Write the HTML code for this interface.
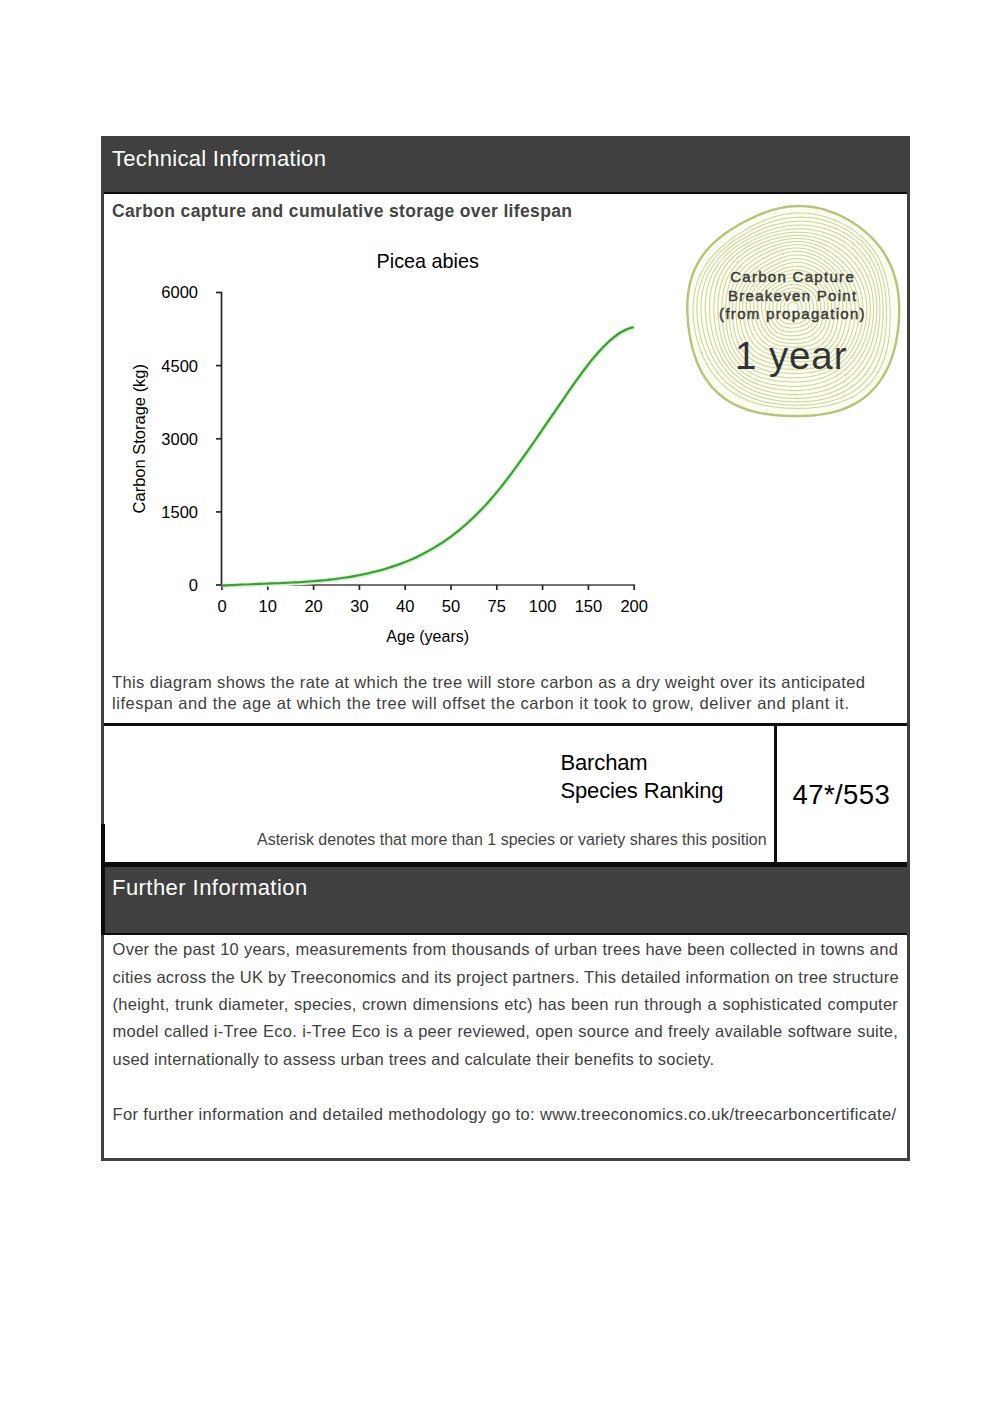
<!DOCTYPE html>
<html><head><meta charset="utf-8">
<style>
html,body{margin:0;padding:0;background:#fff;}
body{width:1004px;height:1421px;position:relative;overflow:hidden;font-family:"Liberation Sans",sans-serif;}
.b{position:absolute;}
.t{position:absolute;white-space:nowrap;line-height:1;}
.hd{background:#404040;}
.blk{background:#0d0d0d;}
.gr{background:#404040;}
</style></head><body>
<!-- Technical header -->
<div class="b hd" style="left:101px;top:136px;width:809px;height:56px;"></div>
<div class="b blk" style="left:104px;top:192px;width:803px;height:2px;"></div>
<!-- borders -->
<div class="b gr" style="left:101px;top:192px;width:3px;height:632px;"></div>
<div class="b blk" style="left:101px;top:824px;width:4px;height:111px;"></div>
<div class="b gr" style="left:101px;top:935px;width:3px;height:226px;"></div>
<div class="b gr" style="left:907px;top:136px;width:3px;height:1025px;"></div>
<div class="b gr" style="left:101px;top:1158px;width:809px;height:3px;"></div>
<!-- ranking row lines -->
<div class="b blk" style="left:104px;top:723px;width:803px;height:3px;"></div>
<div class="b blk" style="left:774px;top:726px;width:3px;height:137px;"></div>
<div class="b blk" style="left:101px;top:862px;width:806px;height:5px;"></div>
<!-- Further header -->
<div class="b hd" style="left:105px;top:867px;width:805px;height:67px;"></div>
<div class="b blk" style="left:101px;top:933px;width:806px;height:2px;"></div>

<!-- header texts -->
<div class="t" style="left:112px;top:148.2px;font-size:22px;letter-spacing:0.3px;color:#fff;">Technical Information</div>
<div class="t" style="left:112px;top:876.6px;font-size:22px;letter-spacing:0.45px;color:#fff;">Further Information</div>
<div class="t" style="left:112px;top:203px;font-size:17.5px;font-weight:700;letter-spacing:0.35px;color:#444;">Carbon capture and cumulative storage over lifespan</div>

<!-- chart -->
<svg class="b" style="left:0;top:0" width="1004" height="700" viewBox="0 0 1004 700">
  <g stroke="#262626" stroke-width="1.7" fill="none">
    <line x1="221.5" y1="292" x2="221.5" y2="586"/>
    <line x1="221" y1="585" x2="635" y2="585" stroke="#444"/>
    <line x1="216" y1="292.5" x2="222" y2="292.5"/>
    <line x1="216" y1="365.6" x2="222" y2="365.6"/>
    <line x1="216" y1="438.8" x2="222" y2="438.8"/>
    <line x1="216" y1="511.9" x2="222" y2="511.9"/>
    <line x1="216" y1="585" x2="222" y2="585"/>
    <line x1="222" y1="585" x2="222" y2="590"/>
    <line x1="267.8" y1="585" x2="267.8" y2="590"/>
    <line x1="313.6" y1="585" x2="313.6" y2="590"/>
    <line x1="359.4" y1="585" x2="359.4" y2="590"/>
    <line x1="405.2" y1="585" x2="405.2" y2="590"/>
    <line x1="451" y1="585" x2="451" y2="590"/>
    <line x1="496.8" y1="585" x2="496.8" y2="590"/>
    <line x1="542.6" y1="585" x2="542.6" y2="590"/>
    <line x1="588.4" y1="585" x2="588.4" y2="590"/>
    <line x1="634.2" y1="585" x2="634.2" y2="590"/>
  </g>
  <path d="M221.8,585.7 C223.0,585.6 226.5,585.4 228.8,585.2 C231.1,585.1 233.4,585.0 235.8,584.9 C238.1,584.7 240.4,584.6 242.7,584.5 C245.1,584.4 247.4,584.3 249.7,584.2 C252.1,584.1 254.4,584.0 256.7,584.0 C259.0,583.9 261.4,583.8 263.7,583.7 C266.0,583.6 268.3,583.5 270.7,583.4 C273.0,583.3 275.3,583.3 277.6,583.2 C280.0,583.1 282.3,583.0 284.6,582.9 C287.0,582.8 289.3,582.7 291.6,582.5 C293.9,582.4 296.3,582.3 298.6,582.2 C300.9,582.0 303.3,581.9 305.6,581.7 C307.9,581.6 310.2,581.4 312.6,581.2 C314.9,581.0 317.2,580.9 319.5,580.6 C321.9,580.4 324.2,580.2 326.5,580.0 C328.8,579.7 331.2,579.5 333.5,579.2 C335.8,578.9 338.2,578.6 340.5,578.3 C342.8,577.9 345.1,577.6 347.5,577.2 C349.8,576.9 352.1,576.5 354.4,576.1 C356.8,575.7 359.1,575.2 361.4,574.7 C363.8,574.3 366.1,573.8 368.4,573.2 C370.7,572.7 373.1,572.2 375.4,571.6 C377.7,571.0 380.0,570.4 382.4,569.7 C384.7,569.1 387.0,568.4 389.4,567.6 C391.7,566.9 394.0,566.1 396.3,565.3 C398.7,564.5 401.0,563.6 403.3,562.7 C405.6,561.8 408.0,560.9 410.3,559.9 C412.6,558.9 415.0,557.8 417.3,556.7 C419.6,555.6 421.9,554.5 424.3,553.2 C426.6,552.0 428.9,550.7 431.2,549.4 C433.6,548.1 435.9,546.7 438.2,545.2 C440.5,543.7 442.9,542.2 445.2,540.6 C447.5,539.0 449.9,537.3 452.2,535.6 C454.5,533.8 456.8,532.0 459.2,530.1 C461.5,528.2 463.8,526.2 466.1,524.2 C468.5,522.1 470.8,520.0 473.1,517.8 C475.5,515.5 477.8,513.2 480.1,510.8 C482.4,508.4 484.8,506.0 487.1,503.4 C489.4,500.8 491.7,498.1 494.1,495.4 C496.4,492.6 498.7,489.8 501.1,486.9 C503.4,483.9 505.7,480.9 508.0,477.9 C510.4,474.8 512.7,471.7 515.0,468.5 C517.3,465.4 519.7,462.1 522.0,458.9 C524.3,455.6 526.7,452.3 529.0,449.0 C531.3,445.7 533.6,442.3 536.0,439.0 C538.3,435.6 540.6,432.3 542.9,428.9 C545.3,425.5 547.6,422.1 549.9,418.7 C552.2,415.3 554.6,411.9 556.9,408.5 C559.2,405.1 561.6,401.7 563.9,398.3 C566.2,395.0 568.5,391.6 570.9,388.2 C573.2,384.9 575.5,381.6 577.9,378.4 C580.2,375.1 582.5,372.0 584.8,368.9 C587.2,365.8 589.5,362.8 591.8,359.9 C594.1,357.1 596.5,354.3 598.8,351.7 C601.1,349.1 603.4,346.7 605.8,344.4 C608.1,342.1 610.4,340.0 612.8,338.1 C615.1,336.2 617.4,334.5 619.7,333.0 C622.1,331.6 624.4,330.3 626.7,329.3 C629.0,328.3 632.5,327.5 633.7,327.1" transform="translate(0.8,1.5)" stroke="#eceeec" stroke-width="3" fill="none"/>
  <path d="M221.8,585.7 C223.0,585.6 226.5,585.4 228.8,585.2 C231.1,585.1 233.4,585.0 235.8,584.9 C238.1,584.7 240.4,584.6 242.7,584.5 C245.1,584.4 247.4,584.3 249.7,584.2 C252.1,584.1 254.4,584.0 256.7,584.0 C259.0,583.9 261.4,583.8 263.7,583.7 C266.0,583.6 268.3,583.5 270.7,583.4 C273.0,583.3 275.3,583.3 277.6,583.2 C280.0,583.1 282.3,583.0 284.6,582.9 C287.0,582.8 289.3,582.7 291.6,582.5 C293.9,582.4 296.3,582.3 298.6,582.2 C300.9,582.0 303.3,581.9 305.6,581.7 C307.9,581.6 310.2,581.4 312.6,581.2 C314.9,581.0 317.2,580.9 319.5,580.6 C321.9,580.4 324.2,580.2 326.5,580.0 C328.8,579.7 331.2,579.5 333.5,579.2 C335.8,578.9 338.2,578.6 340.5,578.3 C342.8,577.9 345.1,577.6 347.5,577.2 C349.8,576.9 352.1,576.5 354.4,576.1 C356.8,575.7 359.1,575.2 361.4,574.7 C363.8,574.3 366.1,573.8 368.4,573.2 C370.7,572.7 373.1,572.2 375.4,571.6 C377.7,571.0 380.0,570.4 382.4,569.7 C384.7,569.1 387.0,568.4 389.4,567.6 C391.7,566.9 394.0,566.1 396.3,565.3 C398.7,564.5 401.0,563.6 403.3,562.7 C405.6,561.8 408.0,560.9 410.3,559.9 C412.6,558.9 415.0,557.8 417.3,556.7 C419.6,555.6 421.9,554.5 424.3,553.2 C426.6,552.0 428.9,550.7 431.2,549.4 C433.6,548.1 435.9,546.7 438.2,545.2 C440.5,543.7 442.9,542.2 445.2,540.6 C447.5,539.0 449.9,537.3 452.2,535.6 C454.5,533.8 456.8,532.0 459.2,530.1 C461.5,528.2 463.8,526.2 466.1,524.2 C468.5,522.1 470.8,520.0 473.1,517.8 C475.5,515.5 477.8,513.2 480.1,510.8 C482.4,508.4 484.8,506.0 487.1,503.4 C489.4,500.8 491.7,498.1 494.1,495.4 C496.4,492.6 498.7,489.8 501.1,486.9 C503.4,483.9 505.7,480.9 508.0,477.9 C510.4,474.8 512.7,471.7 515.0,468.5 C517.3,465.4 519.7,462.1 522.0,458.9 C524.3,455.6 526.7,452.3 529.0,449.0 C531.3,445.7 533.6,442.3 536.0,439.0 C538.3,435.6 540.6,432.3 542.9,428.9 C545.3,425.5 547.6,422.1 549.9,418.7 C552.2,415.3 554.6,411.9 556.9,408.5 C559.2,405.1 561.6,401.7 563.9,398.3 C566.2,395.0 568.5,391.6 570.9,388.2 C573.2,384.9 575.5,381.6 577.9,378.4 C580.2,375.1 582.5,372.0 584.8,368.9 C587.2,365.8 589.5,362.8 591.8,359.9 C594.1,357.1 596.5,354.3 598.8,351.7 C601.1,349.1 603.4,346.7 605.8,344.4 C608.1,342.1 610.4,340.0 612.8,338.1 C615.1,336.2 617.4,334.5 619.7,333.0 C622.1,331.6 624.4,330.3 626.7,329.3 C629.0,328.3 632.5,327.5 633.7,327.1" stroke="#a8ec9c" stroke-width="3.6" fill="none" opacity="0.6"/>
  <path d="M221.8,585.7 C223.0,585.6 226.5,585.4 228.8,585.2 C231.1,585.1 233.4,585.0 235.8,584.9 C238.1,584.7 240.4,584.6 242.7,584.5 C245.1,584.4 247.4,584.3 249.7,584.2 C252.1,584.1 254.4,584.0 256.7,584.0 C259.0,583.9 261.4,583.8 263.7,583.7 C266.0,583.6 268.3,583.5 270.7,583.4 C273.0,583.3 275.3,583.3 277.6,583.2 C280.0,583.1 282.3,583.0 284.6,582.9 C287.0,582.8 289.3,582.7 291.6,582.5 C293.9,582.4 296.3,582.3 298.6,582.2 C300.9,582.0 303.3,581.9 305.6,581.7 C307.9,581.6 310.2,581.4 312.6,581.2 C314.9,581.0 317.2,580.9 319.5,580.6 C321.9,580.4 324.2,580.2 326.5,580.0 C328.8,579.7 331.2,579.5 333.5,579.2 C335.8,578.9 338.2,578.6 340.5,578.3 C342.8,577.9 345.1,577.6 347.5,577.2 C349.8,576.9 352.1,576.5 354.4,576.1 C356.8,575.7 359.1,575.2 361.4,574.7 C363.8,574.3 366.1,573.8 368.4,573.2 C370.7,572.7 373.1,572.2 375.4,571.6 C377.7,571.0 380.0,570.4 382.4,569.7 C384.7,569.1 387.0,568.4 389.4,567.6 C391.7,566.9 394.0,566.1 396.3,565.3 C398.7,564.5 401.0,563.6 403.3,562.7 C405.6,561.8 408.0,560.9 410.3,559.9 C412.6,558.9 415.0,557.8 417.3,556.7 C419.6,555.6 421.9,554.5 424.3,553.2 C426.6,552.0 428.9,550.7 431.2,549.4 C433.6,548.1 435.9,546.7 438.2,545.2 C440.5,543.7 442.9,542.2 445.2,540.6 C447.5,539.0 449.9,537.3 452.2,535.6 C454.5,533.8 456.8,532.0 459.2,530.1 C461.5,528.2 463.8,526.2 466.1,524.2 C468.5,522.1 470.8,520.0 473.1,517.8 C475.5,515.5 477.8,513.2 480.1,510.8 C482.4,508.4 484.8,506.0 487.1,503.4 C489.4,500.8 491.7,498.1 494.1,495.4 C496.4,492.6 498.7,489.8 501.1,486.9 C503.4,483.9 505.7,480.9 508.0,477.9 C510.4,474.8 512.7,471.7 515.0,468.5 C517.3,465.4 519.7,462.1 522.0,458.9 C524.3,455.6 526.7,452.3 529.0,449.0 C531.3,445.7 533.6,442.3 536.0,439.0 C538.3,435.6 540.6,432.3 542.9,428.9 C545.3,425.5 547.6,422.1 549.9,418.7 C552.2,415.3 554.6,411.9 556.9,408.5 C559.2,405.1 561.6,401.7 563.9,398.3 C566.2,395.0 568.5,391.6 570.9,388.2 C573.2,384.9 575.5,381.6 577.9,378.4 C580.2,375.1 582.5,372.0 584.8,368.9 C587.2,365.8 589.5,362.8 591.8,359.9 C594.1,357.1 596.5,354.3 598.8,351.7 C601.1,349.1 603.4,346.7 605.8,344.4 C608.1,342.1 610.4,340.0 612.8,338.1 C615.1,336.2 617.4,334.5 619.7,333.0 C622.1,331.6 624.4,330.3 626.7,329.3 C629.0,328.3 632.5,327.5 633.7,327.1" stroke="#3a9e33" stroke-width="2.1" fill="none"/>
  <g fill="#000" font-family="Liberation Sans" font-size="16.5" text-anchor="end">
    <text x="198" y="298.4">6000</text>
    <text x="198" y="371.5">4500</text>
    <text x="198" y="444.6">3000</text>
    <text x="198" y="517.8">1500</text>
    <text x="198" y="591.4">0</text>
  </g>
  <g fill="#000" font-family="Liberation Sans" font-size="16.5" text-anchor="middle">
    <text x="222" y="611.8">0</text>
    <text x="267.8" y="611.8">10</text>
    <text x="313.6" y="611.8">20</text>
    <text x="359.4" y="611.8">30</text>
    <text x="405.2" y="611.8">40</text>
    <text x="451" y="611.8">50</text>
    <text x="496.8" y="611.8">75</text>
    <text x="542.6" y="611.8">100</text>
    <text x="588.4" y="611.8">150</text>
    <text x="634.2" y="611.8">200</text>
  </g>
  <text x="427.7" y="268.4" font-family="Liberation Sans" font-size="19.8" text-anchor="middle" fill="#000">Picea abies</text>
  <text x="427.7" y="642.4" font-family="Liberation Sans" font-size="16" text-anchor="middle" fill="#000">Age (years)</text>
  <text transform="translate(144.6,438.7) rotate(-90)" font-family="Liberation Sans" font-size="16.5" text-anchor="middle" fill="#000">Carbon Storage (kg)</text>
</svg>

<!-- tree rings -->
<svg class="b" style="left:0;top:0" width="1004" height="700" viewBox="0 0 1004 700">
  <g fill="none">
<path d="M687.3,307.0C687.4,303.9 687.5,300.8 687.7,297.8C688.0,294.7 688.4,291.7 688.9,288.6C689.5,285.6 690.1,282.6 691.0,279.7C691.8,276.7 692.9,273.8 694.0,271.0C695.2,268.2 696.6,265.4 698.1,262.7C699.5,260.1 701.2,257.5 703.0,255.0C704.8,252.6 706.7,250.2 708.7,248.0C710.8,245.8 712.9,243.7 715.1,241.7C717.3,239.6 719.6,237.8 722.0,236.0C724.3,234.2 726.7,232.5 729.1,230.8C731.5,229.2 734.0,227.7 736.4,226.2C738.9,224.7 741.4,223.4 743.9,222.0C746.5,220.7 749.0,219.4 751.6,218.2C754.2,216.9 756.8,215.8 759.4,214.7C762.0,213.6 764.7,212.6 767.5,211.6C770.2,210.7 772.9,209.9 775.7,209.2C778.6,208.4 781.4,207.8 784.3,207.3C787.2,206.9 790.1,206.5 793.0,206.3C795.9,206.1 798.9,206.0 801.8,206.1C804.8,206.2 807.7,206.4 810.7,206.8C813.6,207.2 816.5,207.7 819.4,208.4C822.3,209.0 825.2,209.8 828.0,210.8C830.9,211.7 833.7,212.7 836.4,213.9C839.2,215.1 841.9,216.4 844.5,217.8C847.2,219.2 849.8,220.7 852.3,222.3C854.9,223.9 857.4,225.6 859.8,227.4C862.2,229.2 864.6,231.1 866.8,233.2C869.1,235.2 871.3,237.3 873.4,239.5C875.5,241.8 877.5,244.1 879.4,246.5C881.3,248.9 883.0,251.5 884.7,254.1C886.3,256.7 887.8,259.4 889.1,262.2C890.5,264.9 891.7,267.8 892.8,270.7C893.8,273.6 894.8,276.5 895.5,279.5C896.3,282.5 897.0,285.5 897.5,288.6C898.0,291.6 898.4,294.7 898.7,297.8C898.9,300.8 899.1,303.9 899.2,307.0C899.2,310.1 899.2,313.2 899.1,316.3C899.0,319.4 898.8,322.5 898.5,325.6C898.2,328.7 897.8,331.8 897.3,334.9C896.8,338.1 896.3,341.2 895.6,344.3C894.9,347.5 894.1,350.6 893.1,353.7C892.2,356.8 891.1,359.9 889.9,362.9C888.7,366.0 887.3,369.0 885.7,371.9C884.2,374.8 882.4,377.7 880.5,380.4C878.6,383.2 876.5,385.8 874.3,388.3C872.1,390.8 869.6,393.1 867.1,395.3C864.5,397.5 861.8,399.5 859.0,401.3C856.2,403.1 853.2,404.7 850.2,406.1C847.2,407.6 844.1,408.8 841.0,409.9C837.8,411.0 834.6,411.8 831.4,412.6C828.2,413.3 825.0,413.9 821.8,414.4C818.6,414.9 815.3,415.2 812.1,415.5C808.9,415.7 805.7,415.9 802.5,416.0C799.3,416.1 796.2,416.1 793.0,416.0C789.8,416.0 786.7,415.9 783.5,415.7C780.3,415.5 777.1,415.3 774.0,415.0C770.8,414.6 767.6,414.2 764.4,413.7C761.2,413.2 758.0,412.6 754.9,411.8C751.7,411.0 748.5,410.1 745.4,409.0C742.3,407.9 739.2,406.7 736.3,405.3C733.3,403.8 730.4,402.2 727.6,400.4C724.8,398.6 722.1,396.6 719.6,394.5C717.1,392.4 714.7,390.0 712.4,387.6C710.2,385.1 708.2,382.5 706.3,379.7C704.4,377.0 702.7,374.2 701.2,371.3C699.7,368.4 698.3,365.4 697.1,362.4C695.9,359.4 694.8,356.3 693.9,353.2C692.9,350.2 692.1,347.1 691.4,344.0C690.7,340.9 690.1,337.8 689.6,334.7C689.1,331.6 688.7,328.5 688.3,325.5C688.0,322.4 687.7,319.3 687.6,316.2C687.4,313.1 687.3,310.1 687.3,307.0Z" fill="#fcfdf0" stroke="none"/>
<path d="M787.7,307.0C787.7,306.8 787.7,306.7 787.8,306.5C787.8,306.4 787.8,306.2 787.9,306.1C787.9,305.9 787.9,305.8 788.0,305.7C788.0,305.5 788.1,305.4 788.1,305.2C788.2,305.1 788.3,305.0 788.3,304.8C788.4,304.7 788.5,304.6 788.6,304.4C788.7,304.3 788.7,304.2 788.8,304.1C788.9,304.0 789.0,303.9 789.1,303.8C789.2,303.7 789.4,303.6 789.5,303.5C789.6,303.4 789.7,303.3 789.8,303.2C789.9,303.1 790.0,303.0 790.2,302.9C790.3,302.9 790.4,302.8 790.5,302.7C790.7,302.7 790.8,302.6 790.9,302.5C791.0,302.5 791.2,302.4 791.3,302.4C791.4,302.3 791.6,302.2 791.7,302.2C791.9,302.2 792.0,302.1 792.1,302.1C792.3,302.0 792.4,302.0 792.6,302.0C792.7,302.0 792.9,301.9 793.0,301.9C793.1,301.9 793.3,301.9 793.4,301.9C793.6,301.9 793.7,301.9 793.9,302.0C794.0,302.0 794.2,302.0 794.3,302.0C794.5,302.1 794.6,302.1 794.8,302.2C794.9,302.2 795.0,302.3 795.2,302.3C795.3,302.4 795.5,302.4 795.6,302.5C795.7,302.6 795.9,302.7 796.0,302.8C796.1,302.8 796.2,302.9 796.3,303.0C796.5,303.1 796.6,303.2 796.7,303.3C796.8,303.4 796.9,303.5 797.0,303.7C797.1,303.8 797.2,303.9 797.3,304.0C797.4,304.1 797.4,304.3 797.5,304.4C797.6,304.5 797.7,304.7 797.7,304.8C797.8,304.9 797.9,305.1 797.9,305.2C798.0,305.4 798.0,305.5 798.1,305.6C798.1,305.8 798.1,305.9 798.2,306.1C798.2,306.2 798.2,306.4 798.3,306.5C798.3,306.7 798.3,306.8 798.3,307.0C798.3,307.2 798.3,307.3 798.3,307.5C798.3,307.6 798.3,307.8 798.3,307.9C798.3,308.1 798.3,308.3 798.3,308.4C798.3,308.6 798.2,308.7 798.2,308.9C798.2,309.1 798.1,309.2 798.1,309.4C798.0,309.5 798.0,309.7 797.9,309.8C797.9,310.0 797.8,310.1 797.7,310.3C797.6,310.4 797.5,310.6 797.4,310.7C797.3,310.8 797.2,311.0 797.1,311.1C797.0,311.2 796.8,311.3 796.7,311.4C796.6,311.5 796.4,311.6 796.3,311.7C796.1,311.8 796.0,311.9 795.8,311.9C795.7,312.0 795.5,312.1 795.4,312.1C795.2,312.2 795.1,312.2 794.9,312.2C794.7,312.3 794.6,312.3 794.4,312.3C794.3,312.4 794.1,312.4 793.9,312.4C793.8,312.4 793.6,312.4 793.5,312.4C793.3,312.4 793.2,312.4 793.0,312.4C792.8,312.4 792.7,312.4 792.5,312.4C792.4,312.4 792.2,312.4 792.1,312.4C791.9,312.3 791.7,312.3 791.6,312.3C791.4,312.3 791.3,312.2 791.1,312.2C790.9,312.2 790.8,312.1 790.6,312.1C790.5,312.0 790.3,312.0 790.2,311.9C790.0,311.8 789.9,311.7 789.7,311.7C789.6,311.6 789.5,311.5 789.3,311.4C789.2,311.3 789.1,311.2 789.0,311.0C788.8,310.9 788.7,310.8 788.6,310.7C788.5,310.5 788.4,310.4 788.4,310.3C788.3,310.1 788.2,310.0 788.1,309.8C788.1,309.7 788.0,309.5 788.0,309.3C787.9,309.2 787.9,309.0 787.8,308.9C787.8,308.7 787.8,308.6 787.8,308.4C787.7,308.2 787.7,308.1 787.7,307.9C787.7,307.8 787.7,307.6 787.7,307.5C787.7,307.3 787.7,307.2 787.7,307.0Z" stroke-width="1.05" stroke="#cdd49c"/>
<path d="M784.0,307.0C784.0,306.7 784.1,306.5 784.1,306.2C784.1,306.0 784.2,305.7 784.2,305.5C784.3,305.2 784.4,305.0 784.5,304.7C784.5,304.5 784.6,304.2 784.7,304.0C784.8,303.7 784.9,303.5 785.1,303.3C785.2,303.1 785.3,302.9 785.4,302.6C785.6,302.4 785.7,302.2 785.9,302.0C786.1,301.8 786.2,301.6 786.4,301.5C786.6,301.3 786.8,301.1 787.0,301.0C787.1,300.8 787.3,300.6 787.5,300.5C787.7,300.3 787.9,300.2 788.1,300.1C788.3,299.9 788.6,299.8 788.8,299.7C789.0,299.6 789.2,299.4 789.4,299.3C789.6,299.2 789.9,299.1 790.1,299.0C790.3,298.9 790.6,298.9 790.8,298.8C791.0,298.7 791.3,298.6 791.5,298.6C791.8,298.5 792.0,298.5 792.3,298.4C792.5,298.4 792.7,298.4 793.0,298.4C793.3,298.4 793.5,298.4 793.8,298.4C794.0,298.4 794.3,298.4 794.5,298.4C794.8,298.5 795.0,298.5 795.3,298.6C795.5,298.6 795.7,298.7 796.0,298.8C796.2,298.9 796.5,299.0 796.7,299.1C796.9,299.2 797.2,299.3 797.4,299.4C797.6,299.5 797.8,299.7 798.0,299.8C798.3,299.9 798.5,300.1 798.7,300.2C798.9,300.4 799.1,300.6 799.3,300.7C799.4,300.9 799.6,301.1 799.8,301.3C800.0,301.5 800.1,301.7 800.3,301.9C800.4,302.1 800.6,302.3 800.7,302.5C800.8,302.8 801.0,303.0 801.1,303.2C801.2,303.5 801.3,303.7 801.4,303.9C801.5,304.2 801.6,304.4 801.6,304.7C801.7,304.9 801.8,305.2 801.8,305.4C801.9,305.7 801.9,306.0 802.0,306.2C802.0,306.5 802.1,306.7 802.1,307.0C802.1,307.3 802.1,307.5 802.1,307.8C802.1,308.1 802.1,308.3 802.1,308.6C802.1,308.9 802.1,309.1 802.0,309.4C802.0,309.7 802.0,310.0 801.9,310.2C801.8,310.5 801.8,310.8 801.7,311.0C801.6,311.3 801.5,311.6 801.4,311.8C801.3,312.1 801.1,312.4 801.0,312.6C800.8,312.8 800.7,313.1 800.5,313.3C800.3,313.5 800.1,313.7 799.9,313.9C799.7,314.1 799.5,314.3 799.3,314.5C799.1,314.7 798.8,314.8 798.6,315.0C798.3,315.1 798.1,315.2 797.8,315.4C797.6,315.5 797.3,315.6 797.0,315.7C796.8,315.7 796.5,315.8 796.2,315.9C796.0,315.9 795.7,316.0 795.4,316.0C795.2,316.1 794.9,316.1 794.6,316.2C794.3,316.2 794.1,316.2 793.8,316.2C793.5,316.2 793.3,316.2 793.0,316.2C792.7,316.2 792.5,316.2 792.2,316.2C791.9,316.2 791.7,316.2 791.4,316.2C791.1,316.2 790.8,316.1 790.6,316.1C790.3,316.0 790.0,316.0 789.8,315.9C789.5,315.9 789.2,315.8 788.9,315.7C788.7,315.6 788.4,315.5 788.2,315.4C787.9,315.3 787.7,315.1 787.4,315.0C787.2,314.8 786.9,314.7 786.7,314.5C786.5,314.3 786.3,314.1 786.1,313.9C785.9,313.7 785.7,313.5 785.6,313.2C785.4,313.0 785.2,312.8 785.1,312.5C785.0,312.3 784.8,312.0 784.7,311.8C784.6,311.5 784.5,311.3 784.4,311.0C784.4,310.7 784.3,310.5 784.2,310.2C784.2,309.9 784.1,309.7 784.1,309.4C784.1,309.1 784.0,308.8 784.0,308.6C784.0,308.3 784.0,308.1 784.0,307.8C784.0,307.5 784.0,307.3 784.0,307.0Z" stroke-width="1.05" stroke="#cdd49c"/>
<path d="M780.4,307.0C780.4,306.6 780.4,306.3 780.5,305.9C780.5,305.5 780.6,305.2 780.6,304.8C780.7,304.5 780.8,304.1 780.9,303.8C781.0,303.4 781.1,303.1 781.3,302.7C781.4,302.4 781.6,302.1 781.7,301.8C781.9,301.4 782.1,301.1 782.3,300.8C782.5,300.5 782.7,300.2 782.9,300.0C783.2,299.7 783.4,299.4 783.7,299.2C783.9,298.9 784.2,298.7 784.4,298.4C784.7,298.2 785.0,298.0 785.2,297.8C785.5,297.5 785.8,297.3 786.1,297.2C786.4,297.0 786.7,296.8 787.0,296.6C787.3,296.4 787.6,296.3 787.9,296.1C788.2,296.0 788.6,295.8 788.9,295.7C789.2,295.6 789.5,295.5 789.9,295.4C790.2,295.3 790.6,295.2 790.9,295.1C791.2,295.0 791.6,295.0 791.9,294.9C792.3,294.9 792.6,294.9 793.0,294.8C793.4,294.8 793.7,294.8 794.1,294.9C794.4,294.9 794.8,294.9 795.1,295.0C795.5,295.0 795.8,295.1 796.2,295.2C796.5,295.3 796.9,295.4 797.2,295.5C797.5,295.6 797.9,295.7 798.2,295.9C798.5,296.0 798.8,296.2 799.2,296.3C799.5,296.5 799.8,296.7 800.1,296.9C800.4,297.1 800.7,297.3 801.0,297.5C801.3,297.7 801.6,297.9 801.8,298.2C802.1,298.4 802.4,298.7 802.6,298.9C802.9,299.2 803.1,299.5 803.3,299.8C803.6,300.1 803.8,300.4 804.0,300.7C804.2,301.0 804.3,301.3 804.5,301.6C804.7,302.0 804.8,302.3 804.9,302.7C805.1,303.0 805.2,303.4 805.3,303.7C805.4,304.1 805.5,304.4 805.6,304.8C805.6,305.1 805.7,305.5 805.7,305.9C805.8,306.3 805.8,306.6 805.9,307.0C805.9,307.4 805.9,307.8 805.9,308.1C805.9,308.5 805.9,308.9 805.9,309.3C805.8,309.7 805.8,310.0 805.8,310.4C805.7,310.8 805.6,311.2 805.6,311.6C805.5,312.0 805.4,312.3 805.2,312.7C805.1,313.1 805.0,313.5 804.8,313.8C804.7,314.2 804.5,314.5 804.3,314.9C804.1,315.2 803.8,315.6 803.6,315.9C803.3,316.2 803.1,316.5 802.8,316.8C802.5,317.0 802.2,317.3 801.9,317.5C801.5,317.8 801.2,318.0 800.8,318.2C800.5,318.4 800.1,318.6 799.8,318.8C799.4,318.9 799.1,319.1 798.7,319.2C798.3,319.3 797.9,319.4 797.6,319.5C797.2,319.6 796.8,319.7 796.4,319.7C796.0,319.8 795.7,319.9 795.3,319.9C794.9,320.0 794.5,320.0 794.1,320.0C793.8,320.1 793.4,320.1 793.0,320.1C792.6,320.1 792.2,320.1 791.9,320.1C791.5,320.1 791.1,320.1 790.7,320.1C790.3,320.0 789.9,320.0 789.5,319.9C789.2,319.9 788.8,319.8 788.4,319.7C788.0,319.6 787.6,319.5 787.2,319.4C786.9,319.2 786.5,319.1 786.1,318.9C785.8,318.7 785.4,318.5 785.1,318.3C784.7,318.1 784.4,317.9 784.1,317.6C783.8,317.3 783.5,317.1 783.2,316.8C783.0,316.5 782.7,316.1 782.5,315.8C782.3,315.5 782.1,315.1 781.9,314.8C781.7,314.4 781.5,314.1 781.4,313.7C781.2,313.3 781.1,313.0 781.0,312.6C780.9,312.2 780.8,311.9 780.7,311.5C780.6,311.1 780.6,310.7 780.5,310.3C780.4,310.0 780.4,309.6 780.4,309.2C780.4,308.9 780.3,308.5 780.3,308.1C780.3,307.7 780.3,307.4 780.4,307.0Z" stroke-width="1.05" stroke="#cdd49c"/>
<path d="M776.7,307.0C776.7,306.5 776.7,306.1 776.8,305.6C776.8,305.1 776.9,304.6 777.0,304.2C777.1,303.7 777.2,303.3 777.3,302.8C777.5,302.3 777.6,301.9 777.8,301.5C778.0,301.0 778.2,300.6 778.4,300.2C778.6,299.8 778.9,299.4 779.1,299.0C779.4,298.6 779.7,298.2 779.9,297.9C780.2,297.5 780.6,297.2 780.9,296.8C781.2,296.5 781.5,296.2 781.9,295.9C782.2,295.6 782.6,295.3 783.0,295.0C783.3,294.8 783.7,294.5 784.1,294.2C784.4,294.0 784.8,293.8 785.2,293.5C785.6,293.3 786.0,293.1 786.4,292.9C786.8,292.7 787.3,292.6 787.7,292.4C788.1,292.2 788.5,292.1 789.0,292.0C789.4,291.8 789.8,291.7 790.3,291.6C790.7,291.5 791.2,291.5 791.6,291.4C792.1,291.4 792.5,291.4 793.0,291.3C793.5,291.3 793.9,291.4 794.4,291.4C794.8,291.4 795.3,291.5 795.7,291.6C796.2,291.6 796.6,291.7 797.1,291.8C797.5,291.9 797.9,292.1 798.4,292.2C798.8,292.4 799.2,292.5 799.7,292.7C800.1,292.9 800.5,293.1 800.9,293.3C801.3,293.5 801.8,293.7 802.2,293.9C802.6,294.2 802.9,294.4 803.3,294.7C803.7,295.0 804.1,295.3 804.4,295.6C804.8,295.9 805.2,296.2 805.5,296.5C805.8,296.9 806.1,297.2 806.4,297.6C806.7,298.0 807.0,298.4 807.3,298.8C807.5,299.2 807.7,299.6 808.0,300.0C808.2,300.5 808.4,300.9 808.5,301.3C808.7,301.8 808.9,302.3 809.0,302.7C809.1,303.2 809.2,303.7 809.3,304.1C809.4,304.6 809.5,305.1 809.5,305.6C809.6,306.0 809.6,306.5 809.6,307.0C809.7,307.5 809.7,308.0 809.7,308.5C809.7,308.9 809.6,309.4 809.6,309.9C809.6,310.4 809.5,310.9 809.4,311.4C809.4,311.9 809.3,312.4 809.2,312.9C809.0,313.4 808.9,313.9 808.8,314.3C808.6,314.8 808.4,315.3 808.2,315.8C808.0,316.2 807.8,316.7 807.5,317.1C807.2,317.6 806.9,318.0 806.6,318.4C806.3,318.8 805.9,319.2 805.6,319.6C805.2,319.9 804.8,320.3 804.4,320.6C804.0,320.9 803.6,321.2 803.1,321.5C802.7,321.7 802.2,321.9 801.8,322.2C801.3,322.4 800.8,322.6 800.3,322.7C799.9,322.9 799.4,323.0 798.9,323.2C798.4,323.3 797.9,323.4 797.4,323.5C796.9,323.6 796.4,323.7 795.9,323.7C795.5,323.8 795.0,323.8 794.5,323.9C794.0,323.9 793.5,324.0 793.0,324.0C792.5,324.0 792.0,324.0 791.5,324.0C791.0,324.0 790.5,324.0 790.0,324.0C789.5,323.9 789.0,323.9 788.5,323.8C788.0,323.7 787.5,323.6 787.0,323.5C786.5,323.4 786.0,323.2 785.5,323.1C785.0,322.9 784.5,322.7 784.1,322.5C783.6,322.2 783.2,322.0 782.7,321.7C782.3,321.4 781.9,321.0 781.5,320.7C781.1,320.4 780.8,320.0 780.4,319.6C780.1,319.2 779.8,318.8 779.5,318.3C779.2,317.9 778.9,317.5 778.7,317.0C778.5,316.6 778.3,316.1 778.1,315.6C777.9,315.1 777.7,314.7 777.6,314.2C777.4,313.7 777.3,313.2 777.2,312.7C777.1,312.3 777.0,311.8 776.9,311.3C776.9,310.8 776.8,310.3 776.8,309.9C776.7,309.4 776.7,308.9 776.7,308.4C776.7,308.0 776.7,307.5 776.7,307.0Z" stroke-width="1.05" stroke="#cdd49c"/>
<path d="M773.0,307.0C773.0,306.4 773.0,305.8 773.0,305.3C773.1,304.7 773.2,304.1 773.3,303.5C773.4,303.0 773.5,302.4 773.7,301.8C773.8,301.3 774.0,300.7 774.2,300.2C774.5,299.6 774.7,299.1 775.0,298.6C775.3,298.1 775.6,297.6 775.9,297.1C776.2,296.6 776.6,296.2 776.9,295.7C777.3,295.3 777.7,294.9 778.1,294.5C778.5,294.1 778.9,293.7 779.3,293.3C779.8,293.0 780.2,292.6 780.7,292.3C781.1,292.0 781.6,291.7 782.0,291.4C782.5,291.1 783.0,290.8 783.5,290.5C784.0,290.3 784.5,290.0 785.0,289.8C785.5,289.5 786.0,289.3 786.5,289.1C787.0,288.9 787.5,288.8 788.1,288.6C788.6,288.5 789.1,288.3 789.7,288.2C790.2,288.1 790.8,288.0 791.3,288.0C791.9,287.9 792.4,287.9 793.0,287.9C793.6,287.9 794.1,287.9 794.7,287.9C795.2,288.0 795.8,288.1 796.3,288.1C796.9,288.2 797.4,288.4 798.0,288.5C798.5,288.6 799.0,288.8 799.6,288.9C800.1,289.1 800.6,289.3 801.2,289.5C801.7,289.7 802.2,289.9 802.7,290.2C803.2,290.4 803.7,290.7 804.2,291.0C804.7,291.3 805.2,291.6 805.7,291.9C806.2,292.2 806.6,292.6 807.1,292.9C807.5,293.3 808.0,293.7 808.4,294.1C808.8,294.5 809.2,294.9 809.6,295.4C809.9,295.9 810.3,296.3 810.6,296.8C810.9,297.3 811.2,297.9 811.5,298.4C811.7,298.9 812.0,299.5 812.2,300.0C812.4,300.6 812.5,301.1 812.7,301.7C812.8,302.3 813.0,302.9 813.1,303.5C813.2,304.0 813.2,304.6 813.3,305.2C813.3,305.8 813.4,306.4 813.4,307.0C813.4,307.6 813.4,308.2 813.4,308.8C813.4,309.4 813.3,310.0 813.3,310.6C813.2,311.2 813.1,311.8 813.0,312.4C812.9,313.0 812.8,313.6 812.7,314.2C812.6,314.8 812.4,315.4 812.2,316.0C812.0,316.5 811.8,317.1 811.5,317.7C811.3,318.3 811.0,318.8 810.7,319.4C810.4,319.9 810.0,320.5 809.6,321.0C809.3,321.5 808.8,321.9 808.4,322.4C807.9,322.8 807.5,323.3 807.0,323.7C806.5,324.0 805.9,324.4 805.4,324.7C804.9,325.0 804.3,325.3 803.7,325.6C803.2,325.9 802.6,326.1 802.0,326.3C801.4,326.5 800.8,326.7 800.2,326.8C799.6,327.0 799.0,327.1 798.4,327.3C797.8,327.4 797.2,327.5 796.6,327.6C796.0,327.6 795.4,327.7 794.8,327.8C794.2,327.8 793.6,327.9 793.0,327.9C792.4,327.9 791.8,327.9 791.2,327.9C790.6,327.9 789.9,327.9 789.3,327.9C788.7,327.8 788.1,327.8 787.5,327.7C786.8,327.6 786.2,327.5 785.6,327.3C785.0,327.2 784.4,327.0 783.8,326.8C783.2,326.5 782.6,326.3 782.0,326.0C781.5,325.7 780.9,325.4 780.4,325.0C779.9,324.6 779.4,324.2 778.9,323.8C778.5,323.3 778.0,322.9 777.6,322.4C777.2,321.9 776.8,321.4 776.5,320.8C776.2,320.3 775.9,319.8 775.6,319.2C775.3,318.6 775.0,318.1 774.8,317.5C774.6,316.9 774.4,316.3 774.2,315.8C774.0,315.2 773.9,314.6 773.8,314.0C773.6,313.4 773.5,312.8 773.4,312.3C773.3,311.7 773.2,311.1 773.2,310.5C773.1,309.9 773.0,309.3 773.0,308.7C773.0,308.2 773.0,307.6 773.0,307.0Z" stroke-width="1.05" stroke="#cdd49c"/>
<path d="M769.2,307.0C769.2,306.3 769.2,305.6 769.3,304.9C769.3,304.2 769.4,303.5 769.5,302.9C769.6,302.2 769.8,301.5 769.9,300.8C770.1,300.2 770.4,299.5 770.6,298.9C770.9,298.2 771.2,297.6 771.5,297.0C771.9,296.4 772.2,295.8 772.6,295.2C773.0,294.7 773.4,294.1 773.9,293.6C774.3,293.1 774.8,292.6 775.3,292.1C775.8,291.7 776.3,291.2 776.8,290.8C777.3,290.4 777.9,290.0 778.4,289.6C779.0,289.2 779.5,288.9 780.1,288.5C780.6,288.2 781.2,287.9 781.8,287.5C782.3,287.2 782.9,286.9 783.5,286.7C784.1,286.4 784.7,286.2 785.3,285.9C785.9,285.7 786.6,285.5 787.2,285.3C787.8,285.1 788.4,285.0 789.1,284.8C789.7,284.7 790.4,284.6 791.0,284.5C791.7,284.5 792.3,284.4 793.0,284.4C793.7,284.4 794.3,284.4 795.0,284.5C795.6,284.5 796.3,284.6 796.9,284.7C797.6,284.8 798.2,285.0 798.9,285.1C799.5,285.3 800.1,285.4 800.8,285.6C801.4,285.8 802.0,286.1 802.7,286.3C803.3,286.5 803.9,286.8 804.5,287.1C805.1,287.4 805.7,287.7 806.3,288.0C806.9,288.3 807.5,288.7 808.1,289.0C808.6,289.4 809.2,289.8 809.7,290.3C810.3,290.7 810.8,291.1 811.3,291.6C811.8,292.1 812.3,292.6 812.7,293.2C813.2,293.7 813.6,294.3 814.0,294.9C814.4,295.5 814.7,296.1 815.0,296.7C815.3,297.4 815.6,298.0 815.8,298.7C816.0,299.4 816.2,300.0 816.4,300.7C816.6,301.4 816.7,302.1 816.8,302.8C816.9,303.5 817.0,304.2 817.0,304.9C817.1,305.6 817.1,306.3 817.1,307.0C817.1,307.7 817.1,308.4 817.0,309.1C817.0,309.8 816.9,310.5 816.9,311.2C816.8,311.9 816.7,312.6 816.6,313.3C816.5,314.0 816.3,314.7 816.2,315.4C816.0,316.1 815.8,316.8 815.6,317.5C815.4,318.2 815.1,318.9 814.8,319.6C814.6,320.3 814.2,321.0 813.9,321.6C813.5,322.3 813.1,322.9 812.7,323.5C812.2,324.1 811.7,324.7 811.2,325.2C810.7,325.8 810.2,326.3 809.6,326.8C809.0,327.2 808.4,327.7 807.7,328.1C807.1,328.4 806.4,328.8 805.8,329.1C805.1,329.4 804.4,329.7 803.7,330.0C803.0,330.2 802.3,330.4 801.6,330.6C800.9,330.8 800.2,331.0 799.5,331.1C798.7,331.2 798.0,331.4 797.3,331.5C796.6,331.5 795.9,331.6 795.2,331.7C794.4,331.8 793.7,331.8 793.0,331.8C792.3,331.9 791.6,331.9 790.8,331.9C790.1,331.9 789.4,331.8 788.6,331.8C787.9,331.7 787.2,331.7 786.4,331.5C785.7,331.4 785.0,331.3 784.2,331.1C783.5,330.9 782.8,330.7 782.1,330.4C781.4,330.1 780.7,329.8 780.0,329.5C779.4,329.1 778.7,328.7 778.1,328.3C777.5,327.8 776.9,327.3 776.4,326.8C775.8,326.3 775.3,325.7 774.9,325.1C774.4,324.6 774.0,323.9 773.6,323.3C773.2,322.7 772.8,322.0 772.5,321.4C772.2,320.7 771.9,320.0 771.6,319.4C771.3,318.7 771.1,318.0 770.9,317.3C770.7,316.6 770.5,315.9 770.3,315.3C770.1,314.6 770.0,313.9 769.9,313.2C769.7,312.5 769.6,311.8 769.5,311.1C769.4,310.5 769.4,309.8 769.3,309.1C769.2,308.4 769.2,307.7 769.2,307.0Z" stroke-width="1.05" stroke="#cdd49c"/>
<path d="M765.4,307.0C765.4,306.2 765.4,305.4 765.4,304.6C765.4,303.8 765.5,303.0 765.7,302.2C765.8,301.4 766.0,300.6 766.2,299.8C766.4,299.0 766.7,298.3 767.0,297.5C767.3,296.8 767.6,296.1 768.0,295.4C768.4,294.7 768.9,294.0 769.3,293.3C769.8,292.7 770.3,292.1 770.9,291.5C771.4,290.9 772.0,290.4 772.5,289.8C773.1,289.3 773.7,288.8 774.3,288.3C774.9,287.9 775.6,287.4 776.2,287.0C776.8,286.5 777.5,286.1 778.1,285.8C778.8,285.4 779.4,285.0 780.1,284.6C780.8,284.3 781.4,284.0 782.1,283.7C782.8,283.3 783.5,283.0 784.2,282.8C784.9,282.5 785.6,282.3 786.3,282.0C787.0,281.8 787.8,281.6 788.5,281.5C789.2,281.3 790.0,281.2 790.7,281.1C791.5,281.0 792.2,281.0 793.0,280.9C793.8,280.9 794.5,280.9 795.3,281.0C796.0,281.0 796.8,281.1 797.5,281.2C798.3,281.3 799.0,281.5 799.8,281.7C800.5,281.8 801.3,282.0 802.0,282.3C802.7,282.5 803.5,282.7 804.2,283.0C804.9,283.3 805.6,283.6 806.3,283.9C807.0,284.2 807.7,284.6 808.4,285.0C809.1,285.3 809.8,285.7 810.5,286.2C811.1,286.6 811.8,287.1 812.4,287.6C813.1,288.1 813.7,288.6 814.3,289.2C814.8,289.7 815.4,290.3 815.9,291.0C816.4,291.6 816.9,292.3 817.3,292.9C817.8,293.6 818.2,294.4 818.5,295.1C818.9,295.8 819.2,296.6 819.4,297.4C819.7,298.2 819.9,298.9 820.1,299.7C820.3,300.5 820.4,301.3 820.5,302.2C820.6,303.0 820.6,303.8 820.7,304.6C820.7,305.4 820.7,306.2 820.7,307.0C820.7,307.8 820.7,308.6 820.6,309.4C820.6,310.2 820.5,311.0 820.4,311.8C820.3,312.6 820.2,313.4 820.1,314.3C819.9,315.1 819.8,315.9 819.6,316.7C819.4,317.5 819.2,318.3 819.0,319.1C818.7,319.9 818.5,320.7 818.1,321.5C817.8,322.3 817.5,323.1 817.1,323.9C816.7,324.6 816.2,325.4 815.7,326.1C815.2,326.8 814.7,327.5 814.1,328.1C813.5,328.7 812.9,329.4 812.2,329.9C811.6,330.5 810.9,331.0 810.1,331.5C809.4,331.9 808.6,332.3 807.8,332.7C807.1,333.1 806.3,333.4 805.5,333.7C804.6,334.0 803.8,334.2 803.0,334.5C802.2,334.7 801.3,334.8 800.5,335.0C799.7,335.1 798.8,335.3 798.0,335.4C797.2,335.5 796.3,335.6 795.5,335.6C794.7,335.7 793.8,335.7 793.0,335.7C792.2,335.8 791.3,335.8 790.5,335.8C789.6,335.7 788.8,335.7 788.0,335.6C787.1,335.6 786.3,335.5 785.4,335.3C784.6,335.2 783.7,335.0 782.9,334.8C782.0,334.6 781.2,334.3 780.4,334.0C779.6,333.7 778.8,333.3 778.0,332.9C777.3,332.5 776.5,332.0 775.8,331.5C775.1,331.0 774.5,330.4 773.9,329.8C773.2,329.2 772.7,328.6 772.1,327.9C771.6,327.2 771.1,326.5 770.6,325.8C770.2,325.1 769.8,324.3 769.4,323.5C769.0,322.8 768.7,322.0 768.4,321.2C768.1,320.4 767.8,319.7 767.5,318.9C767.3,318.1 767.1,317.3 766.9,316.5C766.6,315.7 766.5,314.9 766.3,314.2C766.1,313.4 766.0,312.6 765.9,311.8C765.7,311.0 765.6,310.2 765.5,309.4C765.5,308.6 765.4,307.8 765.4,307.0Z" stroke-width="1.05" stroke="#cdd49c"/>
<path d="M761.5,307.0C761.5,306.1 761.5,305.2 761.5,304.2C761.6,303.3 761.6,302.4 761.8,301.5C761.9,300.6 762.1,299.7 762.4,298.8C762.6,297.9 762.9,297.0 763.3,296.2C763.7,295.3 764.1,294.5 764.5,293.7C765.0,292.9 765.5,292.2 766.1,291.5C766.6,290.7 767.2,290.0 767.9,289.4C768.5,288.7 769.1,288.1 769.8,287.5C770.5,287.0 771.2,286.4 771.9,285.9C772.6,285.4 773.3,284.9 774.0,284.4C774.8,283.9 775.5,283.5 776.2,283.0C777.0,282.6 777.7,282.2 778.5,281.8C779.2,281.4 780.0,281.0 780.7,280.7C781.5,280.3 782.3,280.0 783.1,279.7C783.8,279.4 784.6,279.1 785.4,278.8C786.3,278.6 787.1,278.3 787.9,278.1C788.7,277.9 789.6,277.8 790.4,277.7C791.3,277.5 792.1,277.5 793.0,277.4C793.9,277.4 794.7,277.4 795.6,277.4C796.5,277.5 797.3,277.5 798.2,277.7C799.0,277.8 799.9,277.9 800.7,278.1C801.6,278.3 802.4,278.5 803.3,278.8C804.1,279.1 804.9,279.3 805.8,279.7C806.6,280.0 807.4,280.3 808.2,280.7C809.0,281.1 809.8,281.5 810.6,281.9C811.4,282.3 812.1,282.8 812.9,283.3C813.7,283.8 814.4,284.3 815.1,284.9C815.8,285.5 816.5,286.1 817.2,286.7C817.8,287.4 818.5,288.0 819.0,288.8C819.6,289.5 820.2,290.2 820.7,291.0C821.1,291.8 821.6,292.6 822.0,293.5C822.4,294.3 822.7,295.2 823.0,296.1C823.3,297.0 823.5,297.9 823.7,298.8C823.9,299.7 824.0,300.6 824.1,301.5C824.2,302.4 824.3,303.3 824.3,304.3C824.3,305.2 824.3,306.1 824.3,307.0C824.3,307.9 824.2,308.8 824.2,309.7C824.1,310.6 824.0,311.5 823.9,312.4C823.8,313.4 823.7,314.3 823.5,315.2C823.4,316.1 823.2,317.0 823.0,317.9C822.8,318.8 822.6,319.8 822.3,320.7C822.1,321.6 821.8,322.5 821.5,323.4C821.1,324.3 820.7,325.2 820.3,326.1C819.9,327.0 819.4,327.9 818.8,328.7C818.3,329.5 817.7,330.3 817.0,331.0C816.4,331.8 815.7,332.5 814.9,333.1C814.2,333.8 813.4,334.4 812.6,334.9C811.7,335.5 810.9,336.0 810.0,336.4C809.1,336.8 808.2,337.2 807.2,337.5C806.3,337.8 805.4,338.1 804.4,338.3C803.5,338.6 802.5,338.8 801.6,338.9C800.6,339.1 799.6,339.2 798.7,339.3C797.7,339.4 796.8,339.5 795.8,339.5C794.9,339.6 793.9,339.6 793.0,339.6C792.1,339.6 791.1,339.6 790.2,339.6C789.2,339.5 788.2,339.5 787.3,339.4C786.3,339.3 785.4,339.2 784.4,339.0C783.5,338.9 782.5,338.7 781.6,338.4C780.6,338.2 779.7,337.9 778.8,337.5C777.9,337.2 777.0,336.7 776.1,336.3C775.2,335.8 774.4,335.3 773.6,334.7C772.8,334.1 772.1,333.5 771.3,332.8C770.6,332.1 770.0,331.4 769.4,330.6C768.8,329.9 768.2,329.1 767.7,328.3C767.2,327.4 766.7,326.6 766.3,325.7C765.8,324.9 765.4,324.0 765.1,323.1C764.7,322.2 764.4,321.4 764.1,320.5C763.8,319.6 763.6,318.7 763.3,317.8C763.1,316.9 762.9,316.0 762.7,315.1C762.5,314.2 762.3,313.3 762.1,312.4C762.0,311.5 761.8,310.6 761.7,309.7C761.6,308.8 761.5,307.9 761.5,307.0Z" stroke-width="1.05" stroke="#cdd49c"/>
<path d="M757.6,307.0C757.6,306.0 757.6,304.9 757.6,303.9C757.7,302.9 757.8,301.8 757.9,300.8C758.1,299.8 758.3,298.8 758.6,297.8C758.9,296.8 759.3,295.8 759.7,294.9C760.1,293.9 760.6,293.0 761.1,292.1C761.6,291.2 762.2,290.4 762.9,289.6C763.5,288.8 764.2,288.0 764.9,287.3C765.6,286.6 766.4,285.9 767.1,285.3C767.9,284.7 768.7,284.1 769.5,283.5C770.3,282.9 771.1,282.4 771.9,281.9C772.7,281.3 773.5,280.9 774.4,280.4C775.2,279.9 776.0,279.5 776.8,279.0C777.7,278.6 778.5,278.2 779.4,277.8C780.2,277.3 781.1,277.0 781.9,276.6C782.8,276.2 783.7,275.9 784.6,275.6C785.5,275.3 786.4,275.0 787.3,274.8C788.2,274.5 789.2,274.3 790.1,274.1C791.1,274.0 792.0,273.9 793.0,273.8C794.0,273.7 794.9,273.7 795.9,273.8C796.9,273.8 797.9,273.9 798.8,274.0C799.8,274.1 800.8,274.3 801.7,274.5C802.7,274.7 803.6,275.0 804.6,275.3C805.5,275.6 806.4,275.9 807.3,276.2C808.3,276.6 809.2,277.0 810.1,277.4C811.0,277.9 811.9,278.3 812.7,278.8C813.6,279.3 814.5,279.8 815.3,280.4C816.1,281.0 817.0,281.6 817.8,282.2C818.5,282.9 819.3,283.6 820.0,284.3C820.8,285.0 821.5,285.8 822.1,286.6C822.8,287.4 823.4,288.3 823.9,289.2C824.4,290.0 824.9,291.0 825.4,291.9C825.8,292.9 826.2,293.8 826.5,294.8C826.8,295.8 827.0,296.8 827.2,297.8C827.4,298.8 827.6,299.9 827.7,300.9C827.8,301.9 827.9,302.9 827.9,303.9C827.9,305.0 827.9,306.0 827.9,307.0C827.8,308.0 827.8,309.0 827.7,310.0C827.6,311.0 827.5,312.1 827.4,313.1C827.3,314.1 827.2,315.1 827.0,316.1C826.9,317.1 826.7,318.2 826.5,319.2C826.3,320.2 826.0,321.2 825.8,322.3C825.5,323.3 825.2,324.4 824.8,325.4C824.5,326.4 824.1,327.4 823.6,328.4C823.1,329.4 822.6,330.4 822.0,331.3C821.4,332.3 820.7,333.2 820.0,334.0C819.3,334.9 818.5,335.7 817.7,336.4C816.9,337.2 816.0,337.8 815.0,338.5C814.1,339.1 813.1,339.6 812.1,340.1C811.1,340.6 810.1,341.0 809.0,341.4C808.0,341.7 806.9,342.0 805.8,342.2C804.8,342.5 803.7,342.7 802.6,342.8C801.5,343.0 800.4,343.1 799.4,343.2C798.3,343.3 797.2,343.3 796.2,343.3C795.1,343.4 794.1,343.4 793.0,343.4C791.9,343.4 790.9,343.3 789.8,343.3C788.8,343.2 787.7,343.2 786.6,343.0C785.6,342.9 784.5,342.8 783.5,342.6C782.4,342.4 781.3,342.2 780.3,341.9C779.2,341.7 778.2,341.3 777.2,340.9C776.2,340.6 775.1,340.1 774.2,339.6C773.2,339.1 772.3,338.5 771.4,337.9C770.5,337.3 769.6,336.5 768.8,335.8C768.0,335.1 767.3,334.3 766.6,333.4C765.9,332.6 765.3,331.7 764.7,330.8C764.1,329.9 763.5,328.9 763.1,328.0C762.6,327.0 762.1,326.0 761.7,325.1C761.3,324.1 761.0,323.1 760.6,322.1C760.3,321.1 760.0,320.1 759.7,319.1C759.4,318.1 759.2,317.1 759.0,316.1C758.7,315.1 758.5,314.1 758.3,313.1C758.2,312.1 758.0,311.1 757.9,310.1C757.8,309.1 757.7,308.0 757.6,307.0Z" stroke-width="1.05" stroke="#cdd49c"/>
<path d="M753.8,307.0C753.7,305.9 753.7,304.7 753.8,303.6C753.8,302.4 754.0,301.3 754.1,300.1C754.3,299.0 754.6,297.9 754.9,296.8C755.2,295.7 755.6,294.6 756.1,293.6C756.6,292.5 757.1,291.5 757.7,290.6C758.3,289.6 759.0,288.7 759.7,287.8C760.4,286.9 761.2,286.1 762.0,285.3C762.8,284.5 763.7,283.8 764.5,283.1C765.4,282.4 766.2,281.7 767.1,281.1C768.0,280.5 768.9,279.9 769.8,279.4C770.7,278.8 771.6,278.3 772.5,277.7C773.4,277.2 774.3,276.7 775.2,276.2C776.1,275.7 777.1,275.3 778.0,274.8C778.9,274.3 779.8,273.9 780.8,273.5C781.8,273.1 782.7,272.7 783.7,272.3C784.7,271.9 785.7,271.6 786.7,271.3C787.7,271.0 788.8,270.8 789.8,270.6C790.9,270.4 791.9,270.2 793.0,270.1C794.1,270.0 795.2,270.0 796.2,270.0C797.3,270.0 798.4,270.1 799.5,270.2C800.6,270.4 801.6,270.6 802.7,270.8C803.8,271.0 804.8,271.3 805.9,271.7C806.9,272.0 807.9,272.4 809.0,272.8C810.0,273.2 811.0,273.7 812.0,274.2C813.0,274.7 813.9,275.2 814.9,275.8C815.8,276.3 816.8,276.9 817.7,277.6C818.6,278.2 819.5,278.9 820.4,279.6C821.2,280.4 822.1,281.1 822.8,282.0C823.6,282.8 824.4,283.6 825.1,284.5C825.8,285.4 826.4,286.4 827.0,287.4C827.6,288.3 828.2,289.3 828.6,290.4C829.1,291.4 829.5,292.5 829.9,293.6C830.2,294.7 830.5,295.8 830.7,296.9C831.0,298.0 831.1,299.1 831.2,300.3C831.4,301.4 831.4,302.5 831.5,303.6C831.5,304.8 831.5,305.9 831.5,307.0C831.4,308.1 831.4,309.2 831.3,310.4C831.2,311.5 831.1,312.6 831.0,313.7C830.9,314.8 830.7,315.9 830.6,317.1C830.4,318.2 830.2,319.3 830.0,320.5C829.8,321.6 829.6,322.8 829.3,323.9C829.0,325.1 828.6,326.2 828.3,327.4C827.9,328.5 827.4,329.6 826.9,330.8C826.4,331.9 825.8,333.0 825.2,334.0C824.5,335.1 823.8,336.1 823.0,337.0C822.2,338.0 821.4,338.9 820.5,339.7C819.5,340.6 818.5,341.3 817.5,342.0C816.5,342.7 815.4,343.3 814.3,343.8C813.1,344.4 812.0,344.8 810.8,345.2C809.6,345.6 808.4,345.9 807.2,346.1C806.0,346.4 804.8,346.6 803.6,346.7C802.4,346.9 801.2,346.9 800.1,347.0C798.9,347.1 797.7,347.1 796.5,347.1C795.3,347.1 794.2,347.1 793.0,347.1C791.8,347.0 790.7,347.0 789.5,346.9C788.3,346.8 787.2,346.7 786.0,346.6C784.9,346.5 783.7,346.3 782.5,346.1C781.4,345.9 780.2,345.7 779.0,345.4C777.9,345.1 776.7,344.8 775.6,344.3C774.5,343.9 773.3,343.5 772.3,342.9C771.2,342.4 770.1,341.8 769.1,341.1C768.1,340.4 767.2,339.7 766.3,338.8C765.4,338.0 764.5,337.2 763.7,336.3C763.0,335.3 762.2,334.4 761.6,333.4C760.9,332.4 760.3,331.3 759.8,330.3C759.2,329.2 758.7,328.1 758.3,327.1C757.8,326.0 757.4,324.9 757.0,323.8C756.7,322.7 756.3,321.6 756.0,320.5C755.7,319.4 755.4,318.2 755.2,317.1C754.9,316.0 754.7,314.9 754.5,313.8C754.3,312.7 754.2,311.5 754.0,310.4C753.9,309.3 753.8,308.1 753.8,307.0Z" stroke-width="1.05" stroke="#cdd49c"/>
<path d="M750.0,307.0C750.0,305.7 750.0,304.5 750.0,303.2C750.1,302.0 750.3,300.7 750.5,299.5C750.7,298.3 751.0,297.0 751.3,295.8C751.7,294.6 752.1,293.5 752.7,292.3C753.2,291.2 753.8,290.1 754.5,289.0C755.1,288.0 755.9,287.0 756.6,286.0C757.4,285.1 758.3,284.2 759.2,283.3C760.0,282.5 761.0,281.7 761.9,280.9C762.8,280.1 763.8,279.4 764.8,278.8C765.7,278.1 766.7,277.5 767.7,276.8C768.7,276.2 769.7,275.6 770.6,275.1C771.6,274.5 772.6,273.9 773.6,273.4C774.6,272.9 775.6,272.3 776.6,271.8C777.6,271.3 778.6,270.8 779.6,270.3C780.7,269.8 781.7,269.4 782.8,269.0C783.9,268.5 785.0,268.1 786.1,267.8C787.2,267.5 788.3,267.2 789.5,266.9C790.6,266.7 791.8,266.5 793.0,266.4C794.2,266.3 795.4,266.2 796.6,266.2C797.8,266.2 799.0,266.3 800.2,266.4C801.3,266.6 802.5,266.8 803.7,267.1C804.9,267.3 806.0,267.7 807.2,268.0C808.3,268.4 809.5,268.9 810.6,269.3C811.7,269.8 812.8,270.3 813.8,270.9C814.9,271.5 816.0,272.1 817.0,272.7C818.0,273.4 819.0,274.1 820.0,274.8C821.0,275.5 822.0,276.3 822.9,277.1C823.8,277.9 824.7,278.8 825.5,279.7C826.4,280.6 827.2,281.5 828.0,282.5C828.7,283.5 829.4,284.5 830.1,285.6C830.7,286.7 831.3,287.8 831.8,288.9C832.4,290.0 832.8,291.2 833.2,292.4C833.6,293.5 833.9,294.8 834.2,296.0C834.4,297.2 834.6,298.4 834.8,299.6C834.9,300.9 835.0,302.1 835.1,303.3C835.2,304.5 835.2,305.8 835.1,307.0C835.1,308.2 835.1,309.4 835.0,310.7C834.9,311.9 834.8,313.1 834.7,314.4C834.6,315.6 834.4,316.8 834.3,318.1C834.1,319.3 833.9,320.5 833.7,321.8C833.4,323.1 833.2,324.3 832.9,325.6C832.5,326.8 832.2,328.1 831.8,329.4C831.3,330.6 830.9,331.9 830.3,333.1C829.7,334.3 829.1,335.6 828.4,336.7C827.7,337.9 826.9,339.0 826.1,340.1C825.2,341.1 824.2,342.1 823.2,343.0C822.2,343.9 821.1,344.8 820.0,345.5C818.8,346.3 817.6,346.9 816.4,347.5C815.2,348.1 813.9,348.6 812.6,349.0C811.3,349.4 809.9,349.7 808.6,349.9C807.3,350.2 806.0,350.4 804.7,350.5C803.3,350.6 802.0,350.7 800.7,350.8C799.4,350.8 798.1,350.8 796.8,350.8C795.5,350.8 794.3,350.7 793.0,350.7C791.7,350.6 790.5,350.5 789.2,350.4C787.9,350.4 786.7,350.2 785.4,350.1C784.1,350.0 782.9,349.8 781.6,349.6C780.3,349.4 779.0,349.1 777.8,348.8C776.5,348.5 775.2,348.2 774.0,347.7C772.8,347.3 771.5,346.8 770.3,346.3C769.1,345.7 768.0,345.1 766.9,344.3C765.7,343.6 764.7,342.8 763.7,342.0C762.7,341.1 761.7,340.2 760.8,339.2C759.9,338.2 759.1,337.1 758.4,336.0C757.6,335.0 757.0,333.8 756.3,332.7C755.7,331.5 755.2,330.3 754.7,329.1C754.2,327.9 753.7,326.7 753.3,325.5C752.9,324.3 752.6,323.1 752.3,321.8C751.9,320.6 751.7,319.4 751.4,318.1C751.1,316.9 750.9,315.7 750.7,314.5C750.5,313.2 750.4,312.0 750.2,310.7C750.1,309.5 750.0,308.3 750.0,307.0Z" stroke-width="1.05" stroke="#cdd49c"/>
<path d="M746.3,307.0C746.3,305.6 746.3,304.3 746.4,302.9C746.5,301.6 746.7,300.2 746.9,298.9C747.2,297.5 747.5,296.2 747.9,294.9C748.3,293.6 748.8,292.3 749.3,291.1C749.9,289.9 750.5,288.7 751.3,287.5C752.0,286.4 752.8,285.3 753.6,284.3C754.5,283.2 755.4,282.2 756.3,281.3C757.3,280.4 758.3,279.5 759.3,278.7C760.3,277.9 761.3,277.1 762.4,276.4C763.4,275.6 764.5,274.9 765.5,274.3C766.6,273.6 767.7,272.9 768.7,272.3C769.8,271.7 770.8,271.1 771.9,270.5C773.0,269.9 774.1,269.3 775.2,268.7C776.2,268.2 777.3,267.6 778.5,267.1C779.6,266.5 780.7,266.0 781.9,265.5C783.1,265.1 784.2,264.6 785.5,264.2C786.7,263.8 787.9,263.5 789.2,263.2C790.4,262.9 791.7,262.7 793.0,262.6C794.3,262.4 795.6,262.4 796.9,262.4C798.2,262.4 799.5,262.5 800.8,262.6C802.1,262.8 803.4,263.0 804.7,263.3C806.0,263.6 807.2,264.0 808.5,264.4C809.7,264.9 811.0,265.4 812.2,265.9C813.4,266.5 814.5,267.1 815.7,267.7C816.8,268.4 818.0,269.1 819.1,269.8C820.2,270.5 821.2,271.3 822.3,272.1C823.3,272.9 824.3,273.8 825.3,274.7C826.3,275.6 827.3,276.5 828.2,277.5C829.1,278.5 830.0,279.5 830.8,280.6C831.6,281.6 832.3,282.7 833.0,283.9C833.7,285.0 834.4,286.2 835.0,287.4C835.5,288.6 836.1,289.9 836.5,291.2C837.0,292.4 837.3,293.7 837.6,295.0C838.0,296.3 838.2,297.7 838.4,299.0C838.6,300.3 838.7,301.7 838.8,303.0C838.9,304.3 838.9,305.7 838.9,307.0C838.9,308.3 838.9,309.7 838.8,311.0C838.7,312.3 838.7,313.7 838.5,315.0C838.4,316.4 838.3,317.7 838.1,319.1C837.9,320.4 837.7,321.8 837.4,323.2C837.2,324.5 836.9,325.9 836.5,327.3C836.2,328.7 835.8,330.1 835.3,331.4C834.8,332.8 834.3,334.2 833.7,335.5C833.1,336.8 832.4,338.2 831.6,339.4C830.8,340.7 830.0,341.9 829.0,343.0C828.1,344.2 827.0,345.3 825.9,346.3C824.8,347.2 823.6,348.2 822.4,349.0C821.1,349.8 819.8,350.5 818.5,351.1C817.1,351.7 815.7,352.2 814.3,352.6C812.9,353.1 811.4,353.4 810.0,353.7C808.5,353.9 807.1,354.1 805.7,354.2C804.2,354.3 802.8,354.4 801.4,354.4C799.9,354.5 798.5,354.4 797.1,354.4C795.8,354.4 794.4,354.3 793.0,354.2C791.6,354.2 790.3,354.1 788.9,354.0C787.5,353.9 786.2,353.7 784.8,353.6C783.4,353.4 782.0,353.3 780.7,353.1C779.3,352.8 777.9,352.6 776.5,352.3C775.1,352.0 773.8,351.6 772.4,351.2C771.0,350.7 769.7,350.2 768.4,349.7C767.1,349.1 765.8,348.4 764.5,347.7C763.3,346.9 762.1,346.1 761.0,345.1C759.9,344.2 758.8,343.2 757.8,342.2C756.9,341.1 755.9,340.0 755.1,338.8C754.3,337.6 753.5,336.4 752.9,335.1C752.2,333.8 751.6,332.5 751.0,331.2C750.5,329.9 750.0,328.6 749.6,327.2C749.2,325.9 748.8,324.5 748.5,323.2C748.1,321.9 747.9,320.5 747.6,319.2C747.4,317.8 747.1,316.5 746.9,315.1C746.8,313.8 746.6,312.4 746.5,311.1C746.4,309.7 746.3,308.4 746.3,307.0Z" stroke-width="1.05" stroke="#cdd49c"/>
<path d="M742.7,307.0C742.8,305.5 742.8,304.1 742.9,302.6C743.1,301.2 743.2,299.7 743.5,298.3C743.8,296.8 744.1,295.4 744.5,294.0C745.0,292.6 745.5,291.2 746.1,289.9C746.7,288.6 747.3,287.3 748.1,286.1C748.9,284.8 749.7,283.6 750.6,282.5C751.5,281.4 752.5,280.3 753.5,279.3C754.5,278.3 755.5,277.4 756.6,276.5C757.7,275.6 758.8,274.7 759.9,273.9C761.0,273.1 762.2,272.3 763.3,271.6C764.4,270.9 765.6,270.2 766.7,269.5C767.9,268.8 769.0,268.1 770.2,267.5C771.3,266.8 772.5,266.2 773.7,265.5C774.8,264.9 776.0,264.3 777.3,263.7C778.5,263.1 779.7,262.6 781.0,262.1C782.2,261.5 783.5,261.0 784.8,260.6C786.1,260.2 787.5,259.8 788.8,259.5C790.2,259.2 791.6,259.0 793.0,258.8C794.4,258.6 795.8,258.6 797.2,258.6C798.7,258.6 800.1,258.7 801.5,258.9C802.9,259.0 804.3,259.3 805.7,259.7C807.1,260.0 808.4,260.4 809.8,260.9C811.1,261.4 812.4,262.0 813.7,262.6C815.0,263.2 816.3,263.9 817.5,264.6C818.7,265.3 819.9,266.1 821.1,266.9C822.2,267.7 823.4,268.6 824.5,269.5C825.6,270.4 826.7,271.3 827.7,272.3C828.8,273.2 829.8,274.3 830.7,275.3C831.7,276.4 832.6,277.5 833.5,278.6C834.4,279.8 835.2,281.0 836.0,282.2C836.8,283.4 837.5,284.7 838.1,286.0C838.7,287.3 839.3,288.6 839.8,290.0C840.3,291.3 840.8,292.7 841.1,294.1C841.5,295.5 841.8,296.9 842.1,298.3C842.3,299.8 842.5,301.2 842.6,302.7C842.7,304.1 842.8,305.6 842.8,307.0C842.8,308.4 842.8,309.9 842.8,311.4C842.7,312.8 842.6,314.3 842.5,315.7C842.4,317.2 842.2,318.7 842.0,320.1C841.8,321.6 841.6,323.1 841.3,324.6C841.0,326.1 840.7,327.5 840.3,329.0C839.9,330.5 839.4,332.0 838.9,333.5C838.4,335.0 837.8,336.4 837.1,337.9C836.4,339.3 835.6,340.7 834.8,342.1C833.9,343.4 833.0,344.7 831.9,345.9C830.9,347.2 829.8,348.3 828.6,349.4C827.4,350.4 826.0,351.4 824.7,352.3C823.3,353.1 821.9,353.9 820.5,354.5C819.0,355.2 817.5,355.7 815.9,356.2C814.4,356.6 812.8,357.0 811.3,357.3C809.7,357.5 808.2,357.7 806.6,357.8C805.1,358.0 803.5,358.0 802.0,358.1C800.5,358.1 799.0,358.1 797.5,358.0C796.0,358.0 794.5,357.9 793.0,357.8C791.5,357.8 790.1,357.7 788.6,357.5C787.1,357.4 785.6,357.3 784.2,357.1C782.7,357.0 781.2,356.8 779.7,356.6C778.2,356.4 776.7,356.1 775.2,355.8C773.7,355.5 772.2,355.2 770.8,354.7C769.3,354.3 767.8,353.8 766.4,353.1C764.9,352.5 763.5,351.8 762.2,351.1C760.8,350.3 759.5,349.4 758.3,348.4C757.0,347.4 755.9,346.4 754.8,345.2C753.7,344.1 752.7,342.9 751.8,341.6C750.9,340.3 750.1,339.0 749.3,337.6C748.6,336.2 747.9,334.8 747.4,333.3C746.8,331.9 746.3,330.4 745.9,329.0C745.4,327.5 745.0,326.0 744.7,324.6C744.4,323.1 744.1,321.6 743.9,320.2C743.6,318.7 743.4,317.2 743.3,315.8C743.1,314.3 743.0,312.8 742.9,311.4C742.8,309.9 742.7,308.5 742.7,307.0Z" stroke-width="1.05" stroke="#cdd49c"/>
<path d="M739.3,307.0C739.3,305.4 739.4,303.9 739.6,302.3C739.7,300.8 739.9,299.2 740.2,297.7C740.5,296.2 740.8,294.6 741.3,293.1C741.7,291.6 742.2,290.2 742.9,288.7C743.5,287.3 744.2,285.9 745.0,284.6C745.7,283.3 746.6,282.0 747.6,280.8C748.5,279.5 749.5,278.4 750.5,277.3C751.6,276.2 752.7,275.1 753.8,274.1C755.0,273.2 756.2,272.2 757.4,271.4C758.5,270.5 759.8,269.6 761.0,268.8C762.2,268.0 763.4,267.3 764.6,266.5C765.9,265.8 767.1,265.0 768.4,264.3C769.6,263.6 770.9,262.9 772.1,262.3C773.4,261.6 774.7,260.9 776.0,260.3C777.3,259.7 778.7,259.1 780.0,258.5C781.4,258.0 782.8,257.5 784.2,257.0C785.6,256.6 787.1,256.1 788.5,255.8C790.0,255.5 791.5,255.3 793.0,255.1C794.5,254.9 796.0,254.9 797.6,254.9C799.1,254.9 800.6,255.0 802.1,255.2C803.6,255.4 805.2,255.7 806.6,256.1C808.1,256.5 809.6,257.0 811.0,257.5C812.4,258.0 813.9,258.7 815.2,259.3C816.6,260.0 817.9,260.8 819.2,261.6C820.5,262.3 821.8,263.2 823.1,264.1C824.3,265.0 825.5,265.9 826.7,266.9C827.9,267.8 829.0,268.8 830.1,269.9C831.2,270.9 832.3,272.0 833.3,273.2C834.3,274.3 835.3,275.5 836.3,276.7C837.2,277.9 838.1,279.2 839.0,280.5C839.8,281.8 840.6,283.1 841.3,284.5C842.0,285.9 842.6,287.3 843.2,288.7C843.8,290.2 844.3,291.6 844.7,293.1C845.2,294.6 845.5,296.2 845.8,297.7C846.1,299.2 846.4,300.8 846.5,302.3C846.7,303.9 846.8,305.4 846.8,307.0C846.9,308.6 846.9,310.1 846.8,311.7C846.8,313.3 846.7,314.9 846.6,316.4C846.4,318.0 846.2,319.6 846.0,321.2C845.8,322.8 845.5,324.4 845.2,326.0C844.8,327.6 844.4,329.2 844.0,330.8C843.5,332.4 843.0,334.0 842.4,335.5C841.8,337.1 841.2,338.7 840.4,340.2C839.6,341.7 838.8,343.2 837.9,344.6C836.9,346.1 835.9,347.5 834.7,348.7C833.6,350.0 832.4,351.3 831.1,352.4C829.8,353.5 828.4,354.5 826.9,355.4C825.5,356.4 823.9,357.2 822.4,357.9C820.8,358.6 819.2,359.1 817.5,359.6C815.9,360.1 814.2,360.5 812.6,360.8C810.9,361.1 809.2,361.3 807.6,361.4C805.9,361.6 804.3,361.7 802.6,361.7C801.0,361.7 799.4,361.7 797.8,361.7C796.2,361.6 794.6,361.6 793.0,361.5C791.4,361.4 789.8,361.3 788.3,361.2C786.7,361.1 785.1,361.0 783.5,360.8C781.9,360.7 780.3,360.5 778.7,360.3C777.1,360.1 775.5,359.8 773.9,359.5C772.3,359.2 770.7,358.8 769.1,358.3C767.5,357.9 765.9,357.4 764.3,356.7C762.7,356.1 761.2,355.4 759.7,354.5C758.3,353.7 756.8,352.7 755.5,351.7C754.1,350.7 752.9,349.5 751.7,348.3C750.5,347.1 749.4,345.8 748.5,344.4C747.5,343.0 746.6,341.5 745.8,340.1C745.0,338.6 744.3,337.0 743.7,335.5C743.1,333.9 742.6,332.3 742.2,330.7C741.7,329.1 741.3,327.5 741.0,325.9C740.7,324.3 740.4,322.7 740.2,321.1C740.0,319.6 739.8,318.0 739.7,316.4C739.5,314.8 739.4,313.3 739.4,311.7C739.3,310.1 739.3,308.6 739.3,307.0Z" stroke-width="1.05" stroke="#cdd49c"/>
<path d="M736.0,307.0C736.0,305.3 736.1,303.7 736.3,302.0C736.4,300.4 736.6,298.7 736.9,297.1C737.2,295.5 737.6,293.9 738.0,292.3C738.5,290.7 739.0,289.1 739.6,287.6C740.3,286.1 741.0,284.6 741.8,283.1C742.6,281.7 743.5,280.3 744.4,279.0C745.4,277.6 746.5,276.4 747.5,275.2C748.6,274.0 749.8,272.8 751.0,271.8C752.2,270.7 753.4,269.7 754.7,268.7C756.0,267.7 757.3,266.8 758.6,265.9C759.8,265.1 761.2,264.2 762.5,263.4C763.8,262.6 765.1,261.8 766.5,261.1C767.8,260.3 769.2,259.6 770.6,258.9C771.9,258.2 773.3,257.5 774.8,256.9C776.2,256.2 777.6,255.6 779.1,255.0C780.5,254.4 782.0,253.9 783.6,253.4C785.1,253.0 786.6,252.6 788.2,252.2C789.8,251.9 791.4,251.7 793.0,251.5C794.6,251.4 796.2,251.3 797.9,251.3C799.5,251.4 801.1,251.5 802.7,251.7C804.4,252.0 806.0,252.3 807.5,252.7C809.1,253.1 810.7,253.6 812.2,254.2C813.7,254.8 815.2,255.5 816.7,256.2C818.1,256.9 819.6,257.7 821.0,258.6C822.3,259.4 823.7,260.3 825.0,261.3C826.3,262.2 827.6,263.2 828.9,264.3C830.1,265.3 831.3,266.4 832.5,267.5C833.7,268.6 834.8,269.8 835.9,271.0C837.0,272.2 838.1,273.4 839.1,274.7C840.1,276.0 841.1,277.3 842.0,278.7C842.9,280.1 843.8,281.5 844.6,283.0C845.3,284.4 846.1,285.9 846.7,287.5C847.4,289.0 847.9,290.6 848.4,292.1C848.9,293.7 849.4,295.4 849.7,297.0C850.0,298.6 850.3,300.3 850.5,302.0C850.7,303.6 850.9,305.3 850.9,307.0C851.0,308.7 851.0,310.4 851.0,312.1C850.9,313.8 850.8,315.5 850.7,317.2C850.5,318.9 850.3,320.6 850.0,322.3C849.8,324.0 849.4,325.7 849.0,327.4C848.7,329.1 848.2,330.8 847.7,332.5C847.2,334.2 846.6,335.9 845.9,337.5C845.2,339.2 844.5,340.9 843.6,342.5C842.8,344.0 841.8,345.6 840.8,347.1C839.8,348.6 838.7,350.1 837.4,351.4C836.2,352.8 834.9,354.1 833.5,355.3C832.1,356.4 830.6,357.5 829.1,358.5C827.5,359.5 825.9,360.3 824.2,361.1C822.6,361.8 820.8,362.5 819.1,363.0C817.4,363.5 815.6,363.9 813.8,364.3C812.1,364.6 810.3,364.9 808.6,365.0C806.8,365.2 805.0,365.3 803.3,365.4C801.6,365.4 799.8,365.4 798.1,365.4C796.4,365.4 794.7,365.4 793.0,365.3C791.3,365.2 789.6,365.1 787.9,365.0C786.2,364.9 784.5,364.8 782.8,364.7C781.1,364.5 779.4,364.3 777.7,364.1C776.0,363.9 774.2,363.6 772.5,363.3C770.8,362.9 769.0,362.6 767.3,362.1C765.6,361.6 763.9,361.0 762.2,360.3C760.5,359.7 758.9,358.9 757.3,358.0C755.7,357.1 754.2,356.1 752.7,355.0C751.3,353.9 749.9,352.7 748.6,351.4C747.4,350.0 746.2,348.6 745.2,347.1C744.1,345.7 743.2,344.1 742.3,342.5C741.5,340.9 740.8,339.2 740.2,337.5C739.5,335.8 739.0,334.1 738.5,332.4C738.1,330.7 737.7,328.9 737.4,327.2C737.1,325.5 736.9,323.8 736.6,322.1C736.4,320.4 736.3,318.7 736.2,317.0C736.1,315.3 736.0,313.7 735.9,312.0C735.9,310.3 735.9,308.7 736.0,307.0Z" stroke-width="1.05" stroke="#cdd49c"/>
<path d="M732.6,307.0C732.7,305.2 732.8,303.5 732.9,301.7C733.1,300.0 733.3,298.3 733.6,296.5C733.9,294.8 734.3,293.1 734.7,291.4C735.2,289.7 735.7,288.0 736.4,286.4C737.0,284.7 737.7,283.1 738.5,281.6C739.3,280.1 740.3,278.5 741.2,277.1C742.2,275.7 743.3,274.3 744.4,273.0C745.6,271.7 746.8,270.5 748.1,269.3C749.3,268.1 750.6,267.0 752.0,266.0C753.3,264.9 754.7,263.9 756.1,263.0C757.4,262.0 758.9,261.1 760.3,260.3C761.7,259.4 763.1,258.6 764.6,257.8C766.1,257.0 767.5,256.3 769.0,255.5C770.5,254.8 772.0,254.1 773.5,253.4C775.0,252.8 776.6,252.1 778.1,251.6C779.7,251.0 781.3,250.4 782.9,250.0C784.6,249.5 786.2,249.1 787.9,248.8C789.6,248.5 791.3,248.2 793.0,248.1C794.7,247.9 796.4,247.9 798.2,247.9C799.9,248.0 801.6,248.1 803.3,248.4C805.0,248.6 806.8,249.0 808.4,249.4C810.1,249.9 811.8,250.4 813.4,251.0C815.0,251.6 816.6,252.3 818.1,253.1C819.7,253.9 821.2,254.7 822.7,255.6C824.1,256.5 825.6,257.5 827.0,258.5C828.4,259.5 829.8,260.5 831.1,261.6C832.4,262.7 833.7,263.8 835.0,265.0C836.2,266.2 837.5,267.4 838.6,268.7C839.8,270.0 841.0,271.3 842.1,272.6C843.1,274.0 844.2,275.4 845.2,276.9C846.2,278.3 847.1,279.8 847.9,281.4C848.8,282.9 849.6,284.5 850.3,286.1C851.0,287.8 851.7,289.4 852.2,291.1C852.8,292.8 853.2,294.6 853.6,296.3C854.0,298.1 854.3,299.8 854.6,301.6C854.8,303.4 855.0,305.2 855.1,307.0C855.1,308.8 855.2,310.6 855.1,312.4C855.0,314.2 854.9,316.1 854.7,317.9C854.6,319.7 854.3,321.5 854.0,323.3C853.7,325.2 853.3,327.0 852.9,328.8C852.4,330.6 851.9,332.4 851.3,334.2C850.7,336.0 850.0,337.8 849.3,339.5C848.5,341.2 847.7,343.0 846.8,344.6C845.8,346.3 844.8,348.0 843.7,349.5C842.5,351.1 841.3,352.6 840.0,354.0C838.7,355.4 837.3,356.8 835.8,358.0C834.3,359.3 832.8,360.4 831.1,361.5C829.5,362.5 827.8,363.4 826.0,364.2C824.3,365.0 822.5,365.7 820.7,366.3C818.8,366.9 817.0,367.4 815.1,367.8C813.3,368.2 811.4,368.5 809.5,368.7C807.7,368.9 805.8,369.1 804.0,369.2C802.1,369.3 800.3,369.3 798.5,369.3C796.6,369.3 794.8,369.3 793.0,369.3C791.2,369.2 789.4,369.1 787.6,369.0C785.8,368.9 784.0,368.8 782.1,368.7C780.3,368.5 778.5,368.3 776.6,368.1C774.8,367.8 772.9,367.6 771.1,367.2C769.2,366.8 767.4,366.4 765.5,365.9C763.7,365.3 761.9,364.7 760.1,364.0C758.3,363.3 756.5,362.4 754.9,361.5C753.2,360.5 751.5,359.4 750.0,358.2C748.5,357.1 747.0,355.7 745.7,354.3C744.3,352.9 743.1,351.4 742.0,349.8C740.9,348.2 739.9,346.5 739.0,344.8C738.1,343.1 737.4,341.3 736.7,339.5C736.1,337.7 735.5,335.8 735.1,334.0C734.6,332.2 734.2,330.3 733.9,328.5C733.6,326.7 733.4,324.8 733.2,323.0C733.0,321.2 732.9,319.4 732.7,317.6C732.6,315.8 732.6,314.1 732.6,312.3C732.5,310.5 732.5,308.8 732.6,307.0Z" stroke-width="1.05" stroke="#cdd49c"/>
<path d="M729.2,307.0C729.3,305.1 729.4,303.3 729.5,301.4C729.7,299.6 729.9,297.8 730.2,295.9C730.5,294.1 730.9,292.3 731.3,290.5C731.8,288.7 732.3,286.9 733.0,285.1C733.6,283.4 734.3,281.7 735.2,280.0C736.0,278.4 736.9,276.8 737.9,275.2C739.0,273.7 740.1,272.2 741.3,270.8C742.5,269.4 743.7,268.0 745.0,266.8C746.4,265.5 747.8,264.3 749.2,263.2C750.6,262.0 752.1,261.0 753.5,260.0C755.0,259.0 756.5,258.0 758.1,257.1C759.6,256.2 761.1,255.3 762.7,254.5C764.3,253.7 765.8,252.9 767.4,252.2C769.0,251.4 770.6,250.7 772.3,250.0C773.9,249.4 775.6,248.7 777.2,248.2C778.9,247.6 780.6,247.1 782.4,246.6C784.1,246.2 785.8,245.8 787.6,245.5C789.4,245.2 791.2,245.0 793.0,244.8C794.8,244.7 796.6,244.6 798.4,244.7C800.3,244.8 802.1,244.9 803.9,245.2C805.7,245.5 807.5,245.8 809.3,246.3C811.0,246.7 812.8,247.3 814.5,247.9C816.2,248.5 817.9,249.3 819.6,250.0C821.2,250.8 822.8,251.7 824.4,252.6C826.0,253.5 827.5,254.5 829.0,255.6C830.5,256.6 832.0,257.7 833.4,258.8C834.8,260.0 836.2,261.2 837.6,262.4C838.9,263.7 840.2,265.0 841.5,266.3C842.8,267.7 844.0,269.0 845.1,270.5C846.3,271.9 847.4,273.4 848.5,275.0C849.5,276.5 850.5,278.1 851.5,279.7C852.4,281.4 853.2,283.1 854.0,284.8C854.8,286.5 855.4,288.3 856.0,290.1C856.6,291.9 857.2,293.8 857.6,295.6C858.0,297.5 858.3,299.4 858.6,301.3C858.9,303.2 859.0,305.1 859.1,307.0C859.2,308.9 859.2,310.9 859.1,312.8C859.1,314.7 858.9,316.7 858.7,318.6C858.5,320.5 858.2,322.5 857.9,324.4C857.5,326.3 857.1,328.2 856.6,330.1C856.0,332.0 855.5,333.9 854.8,335.8C854.1,337.7 853.4,339.6 852.6,341.4C851.7,343.2 850.8,345.0 849.8,346.8C848.8,348.5 847.7,350.2 846.4,351.8C845.2,353.5 843.9,355.1 842.5,356.5C841.2,358.0 839.7,359.5 838.1,360.8C836.5,362.1 834.9,363.3 833.2,364.4C831.5,365.5 829.7,366.5 827.9,367.4C826.0,368.2 824.1,369.0 822.2,369.7C820.3,370.3 818.4,370.9 816.4,371.3C814.5,371.8 812.5,372.2 810.5,372.5C808.6,372.7 806.6,372.9 804.7,373.1C802.7,373.2 800.7,373.3 798.8,373.4C796.9,373.4 794.9,373.4 793.0,373.4C791.1,373.4 789.1,373.3 787.2,373.2C785.3,373.1 783.3,373.0 781.4,372.8C779.5,372.6 777.5,372.4 775.5,372.2C773.6,371.9 771.6,371.6 769.6,371.2C767.7,370.8 765.7,370.3 763.8,369.7C761.8,369.1 759.9,368.4 758.0,367.6C756.1,366.8 754.3,365.9 752.5,364.9C750.7,363.8 749.0,362.7 747.4,361.4C745.8,360.1 744.2,358.7 742.8,357.2C741.4,355.7 740.1,354.0 739.0,352.3C737.8,350.7 736.8,348.9 735.8,347.0C734.9,345.2 734.1,343.3 733.4,341.4C732.8,339.5 732.2,337.5 731.7,335.6C731.2,333.6 730.8,331.7 730.5,329.7C730.2,327.8 730.0,325.9 729.8,323.9C729.6,322.0 729.4,320.1 729.3,318.2C729.2,316.3 729.2,314.5 729.2,312.6C729.1,310.7 729.1,308.9 729.2,307.0Z" stroke-width="1.05" stroke="#cdd49c"/>
<path d="M725.7,307.0C725.7,305.0 725.8,303.1 726.0,301.1C726.1,299.2 726.3,297.2 726.6,295.3C726.9,293.4 727.3,291.4 727.8,289.5C728.2,287.6 728.8,285.7 729.4,283.9C730.1,282.0 730.8,280.2 731.7,278.4C732.5,276.6 733.5,274.9 734.6,273.3C735.6,271.6 736.8,270.0 738.0,268.5C739.3,267.0 740.6,265.6 742.0,264.2C743.4,262.9 744.9,261.6 746.4,260.4C747.9,259.2 749.4,258.0 751.0,257.0C752.6,255.9 754.2,254.9 755.9,254.0C757.5,253.0 759.2,252.1 760.8,251.3C762.5,250.4 764.2,249.6 765.9,248.9C767.6,248.1 769.3,247.4 771.1,246.8C772.8,246.1 774.6,245.5 776.4,244.9C778.2,244.4 780.0,243.9 781.8,243.4C783.6,243.0 785.5,242.6 787.3,242.3C789.2,242.0 791.1,241.8 793.0,241.7C794.9,241.6 796.8,241.5 798.7,241.6C800.6,241.7 802.5,241.8 804.4,242.1C806.3,242.3 808.2,242.7 810.1,243.2C812.0,243.6 813.8,244.2 815.6,244.8C817.5,245.4 819.3,246.1 821.0,246.9C822.8,247.7 824.5,248.6 826.2,249.5C827.9,250.5 829.5,251.5 831.1,252.6C832.7,253.6 834.3,254.8 835.8,256.0C837.4,257.2 838.8,258.4 840.3,259.7C841.7,261.0 843.1,262.4 844.5,263.8C845.8,265.2 847.1,266.7 848.4,268.2C849.6,269.7 850.8,271.3 851.9,273.0C853.0,274.6 854.1,276.3 855.1,278.1C856.0,279.8 856.9,281.6 857.7,283.4C858.5,285.3 859.3,287.2 859.9,289.1C860.5,291.0 861.0,293.0 861.5,294.9C861.9,296.9 862.3,298.9 862.5,300.9C862.8,302.9 862.9,305.0 863.0,307.0C863.1,309.0 863.1,311.1 863.0,313.1C862.9,315.2 862.8,317.2 862.5,319.3C862.3,321.3 862.0,323.3 861.6,325.4C861.2,327.4 860.7,329.4 860.1,331.4C859.6,333.4 858.9,335.4 858.2,337.4C857.5,339.4 856.6,341.3 855.7,343.2C854.8,345.1 853.8,347.0 852.8,348.8C851.7,350.7 850.5,352.5 849.2,354.2C847.9,355.9 846.5,357.5 845.1,359.1C843.6,360.6 842.1,362.1 840.4,363.5C838.8,364.9 837.1,366.2 835.3,367.4C833.5,368.5 831.6,369.6 829.7,370.6C827.8,371.5 825.8,372.4 823.8,373.1C821.8,373.9 819.8,374.5 817.8,375.0C815.7,375.6 813.6,376.0 811.6,376.3C809.5,376.7 807.4,377.0 805.4,377.2C803.3,377.4 801.2,377.5 799.2,377.6C797.1,377.7 795.1,377.7 793.0,377.7C790.9,377.7 788.9,377.6 786.8,377.5C784.8,377.4 782.7,377.3 780.6,377.1C778.6,376.9 776.5,376.6 774.4,376.3C772.4,376.0 770.3,375.6 768.2,375.2C766.1,374.7 764.0,374.1 762.0,373.5C760.0,372.8 757.9,372.1 756.0,371.2C754.0,370.3 752.0,369.3 750.2,368.1C748.3,367.0 746.5,365.7 744.9,364.4C743.2,363.0 741.6,361.5 740.1,359.9C738.7,358.3 737.3,356.5 736.1,354.8C734.9,353.0 733.8,351.1 732.8,349.1C731.8,347.2 731.0,345.2 730.3,343.2C729.6,341.2 729.0,339.1 728.5,337.1C727.9,335.1 727.5,333.0 727.2,331.0C726.8,328.9 726.6,326.9 726.4,324.9C726.1,322.8 726.0,320.8 725.9,318.8C725.7,316.8 725.7,314.9 725.6,312.9C725.6,310.9 725.6,309.0 725.7,307.0Z" stroke-width="1.05" stroke="#cdd49c"/>
<path d="M721.9,307.0C722.0,304.9 722.1,302.9 722.2,300.8C722.4,298.7 722.6,296.7 722.9,294.6C723.2,292.6 723.6,290.5 724.0,288.5C724.5,286.5 725.1,284.5 725.8,282.5C726.4,280.6 727.2,278.6 728.1,276.8C729.0,274.9 730.1,273.0 731.2,271.3C732.3,269.6 733.5,267.9 734.8,266.3C736.1,264.7 737.5,263.1 739.0,261.7C740.5,260.3 742.1,258.9 743.6,257.6C745.2,256.4 746.9,255.2 748.6,254.1C750.3,253.0 752.0,251.9 753.7,250.9C755.5,249.9 757.3,249.0 759.0,248.2C760.8,247.3 762.6,246.5 764.4,245.7C766.2,245.0 768.1,244.3 769.9,243.6C771.8,242.9 773.6,242.3 775.5,241.8C777.4,241.2 779.3,240.7 781.2,240.3C783.2,239.9 785.1,239.5 787.1,239.2C789.0,238.9 791.0,238.7 793.0,238.6C795.0,238.5 797.0,238.5 799.0,238.5C801.0,238.6 803.0,238.7 805.0,239.0C807.0,239.2 809.0,239.6 810.9,240.0C812.9,240.5 814.9,241.0 816.8,241.6C818.7,242.2 820.6,243.0 822.5,243.7C824.4,244.5 826.2,245.4 828.0,246.4C829.8,247.3 831.6,248.3 833.3,249.4C835.0,250.5 836.7,251.7 838.4,252.9C840.0,254.2 841.6,255.5 843.1,256.9C844.7,258.2 846.2,259.7 847.6,261.2C849.1,262.7 850.4,264.2 851.7,265.9C853.1,267.5 854.3,269.2 855.5,270.9C856.6,272.7 857.7,274.5 858.7,276.4C859.7,278.2 860.6,280.1 861.5,282.1C862.3,284.0 863.0,286.0 863.6,288.1C864.3,290.1 864.8,292.2 865.3,294.3C865.7,296.3 866.0,298.5 866.3,300.6C866.5,302.7 866.7,304.9 866.8,307.0C866.8,309.1 866.8,311.3 866.7,313.4C866.6,315.6 866.4,317.8 866.1,319.9C865.9,322.0 865.5,324.2 865.1,326.3C864.7,328.4 864.1,330.6 863.5,332.7C862.9,334.8 862.3,336.9 861.5,338.9C860.7,341.0 859.9,343.0 858.9,345.0C857.9,347.0 856.9,349.0 855.7,350.9C854.6,352.8 853.3,354.7 852.0,356.5C850.7,358.3 849.2,360.0 847.7,361.7C846.1,363.3 844.5,364.9 842.8,366.4C841.1,367.8 839.3,369.2 837.4,370.5C835.6,371.7 833.6,372.9 831.6,373.9C829.6,375.0 827.6,375.9 825.5,376.7C823.4,377.5 821.3,378.2 819.1,378.8C817.0,379.4 814.8,379.9 812.7,380.4C810.5,380.8 808.3,381.1 806.1,381.3C803.9,381.6 801.7,381.8 799.6,381.9C797.4,382.0 795.2,382.0 793.0,382.0C790.8,382.0 788.6,382.0 786.5,381.8C784.3,381.7 782.1,381.6 779.9,381.3C777.7,381.1 775.5,380.8 773.3,380.4C771.1,380.1 768.9,379.6 766.8,379.1C764.6,378.5 762.4,377.9 760.3,377.2C758.2,376.4 756.0,375.6 754.0,374.6C751.9,373.6 749.9,372.5 748.0,371.3C746.1,370.0 744.2,368.7 742.5,367.2C740.7,365.7 739.1,364.1 737.6,362.4C736.0,360.7 734.6,358.9 733.4,357.0C732.1,355.2 730.9,353.2 729.9,351.2C728.9,349.2 728.0,347.1 727.2,345.0C726.5,342.9 725.8,340.7 725.2,338.6C724.7,336.5 724.2,334.3 723.8,332.2C723.4,330.0 723.1,327.9 722.9,325.8C722.6,323.7 722.4,321.6 722.3,319.5C722.1,317.4 722.0,315.3 722.0,313.2C721.9,311.1 721.9,309.1 721.9,307.0Z" stroke-width="1.05" stroke="#cdd49c"/>
<path d="M718.0,307.0C718.0,304.8 718.1,302.6 718.2,300.5C718.4,298.3 718.6,296.1 718.9,293.9C719.3,291.8 719.7,289.6 720.2,287.5C720.7,285.4 721.3,283.2 722.0,281.2C722.8,279.1 723.6,277.1 724.6,275.1C725.5,273.1 726.6,271.2 727.8,269.3C729.0,267.5 730.3,265.7 731.7,264.1C733.1,262.4 734.6,260.8 736.1,259.3C737.7,257.8 739.3,256.4 741.0,255.0C742.7,253.7 744.5,252.5 746.3,251.3C748.0,250.1 749.9,249.1 751.7,248.0C753.6,247.0 755.4,246.1 757.3,245.2C759.2,244.3 761.1,243.5 763.0,242.7C764.9,241.9 766.9,241.2 768.8,240.5C770.8,239.9 772.7,239.2 774.7,238.7C776.7,238.1 778.7,237.6 780.7,237.2C782.7,236.8 784.8,236.4 786.8,236.1C788.9,235.9 790.9,235.6 793.0,235.5C795.1,235.4 797.2,235.4 799.3,235.4C801.4,235.5 803.5,235.6 805.5,235.8C807.6,236.1 809.7,236.4 811.8,236.8C813.9,237.2 815.9,237.7 818.0,238.4C820.0,239.0 822.0,239.7 824.0,240.4C826.0,241.2 828.0,242.1 829.9,243.1C831.8,244.0 833.7,245.1 835.6,246.2C837.4,247.3 839.2,248.5 841.0,249.8C842.7,251.1 844.4,252.5 846.1,253.9C847.7,255.4 849.3,256.9 850.8,258.5C852.4,260.1 853.8,261.7 855.2,263.5C856.5,265.2 857.8,267.0 859.0,268.9C860.2,270.7 861.4,272.7 862.4,274.7C863.4,276.6 864.3,278.7 865.1,280.7C866.0,282.8 866.7,284.9 867.3,287.1C867.9,289.2 868.4,291.4 868.9,293.6C869.3,295.8 869.6,298.0 869.8,300.3C870.1,302.5 870.2,304.8 870.3,307.0C870.3,309.2 870.3,311.5 870.2,313.8C870.1,316.0 869.9,318.3 869.6,320.5C869.3,322.7 868.9,325.0 868.5,327.2C868.0,329.5 867.5,331.7 866.9,333.9C866.3,336.1 865.6,338.3 864.8,340.5C864.0,342.6 863.1,344.8 862.1,346.9C861.1,349.0 860.0,351.1 858.8,353.1C857.6,355.1 856.3,357.1 854.9,358.9C853.5,360.8 852.0,362.7 850.4,364.4C848.8,366.1 847.1,367.8 845.3,369.3C843.5,370.9 841.7,372.4 839.7,373.7C837.8,375.0 835.7,376.3 833.7,377.4C831.6,378.5 829.4,379.5 827.2,380.4C825.1,381.3 822.8,382.1 820.6,382.8C818.3,383.4 816.0,384.0 813.8,384.5C811.5,384.9 809.2,385.3 806.9,385.6C804.5,385.9 802.2,386.0 799.9,386.2C797.6,386.3 795.3,386.4 793.0,386.4C790.7,386.4 788.4,386.3 786.1,386.1C783.8,386.0 781.5,385.8 779.2,385.5C776.8,385.2 774.5,384.9 772.2,384.5C769.9,384.0 767.6,383.5 765.4,382.9C763.1,382.3 760.8,381.6 758.6,380.7C756.4,379.9 754.2,378.9 752.1,377.9C750.0,376.8 747.9,375.6 745.9,374.3C743.9,372.9 742.0,371.5 740.2,369.9C738.4,368.4 736.7,366.7 735.1,364.9C733.5,363.1 732.1,361.2 730.7,359.3C729.4,357.3 728.2,355.2 727.1,353.1C726.0,351.1 725.1,348.9 724.2,346.7C723.4,344.5 722.7,342.3 722.0,340.1C721.4,337.9 720.9,335.6 720.4,333.4C720.0,331.2 719.6,329.0 719.3,326.8C719.0,324.5 718.7,322.3 718.5,320.1C718.3,317.9 718.2,315.7 718.1,313.6C718.0,311.4 718.0,309.2 718.0,307.0Z" stroke-width="1.05" stroke="#cdd49c"/>
<path d="M713.8,307.0C713.9,304.7 713.9,302.4 714.1,300.1C714.3,297.8 714.5,295.5 714.9,293.2C715.2,290.9 715.7,288.7 716.2,286.4C716.8,284.2 717.5,282.0 718.3,279.8C719.1,277.6 720.0,275.5 721.0,273.4C722.1,271.4 723.2,269.4 724.5,267.4C725.8,265.5 727.2,263.7 728.6,261.9C730.1,260.2 731.7,258.5 733.4,257.0C735.0,255.4 736.8,253.9 738.6,252.6C740.3,251.2 742.2,249.9 744.1,248.7C745.9,247.5 747.9,246.3 749.8,245.3C751.7,244.2 753.7,243.3 755.7,242.3C757.6,241.4 759.6,240.6 761.6,239.8C763.7,239.0 765.7,238.2 767.7,237.5C769.8,236.8 771.8,236.2 773.9,235.6C776.0,235.1 778.0,234.6 780.1,234.1C782.3,233.7 784.4,233.3 786.5,233.0C788.7,232.7 790.8,232.5 793.0,232.3C795.2,232.2 797.4,232.1 799.5,232.2C801.7,232.2 803.9,232.3 806.1,232.5C808.3,232.7 810.5,233.0 812.7,233.4C814.9,233.9 817.1,234.4 819.2,234.9C821.4,235.5 823.5,236.2 825.6,237.0C827.7,237.8 829.8,238.7 831.9,239.7C833.9,240.6 835.9,241.7 837.9,242.9C839.9,244.0 841.8,245.3 843.7,246.6C845.5,248.0 847.3,249.4 849.1,250.9C850.8,252.4 852.5,254.1 854.1,255.7C855.7,257.4 857.2,259.2 858.6,261.1C860.0,262.9 861.3,264.8 862.6,266.8C863.8,268.8 864.9,270.9 865.9,273.0C867.0,275.1 867.9,277.3 868.7,279.5C869.5,281.6 870.2,283.9 870.8,286.2C871.4,288.4 871.9,290.7 872.3,293.0C872.7,295.3 873.0,297.7 873.2,300.0C873.4,302.3 873.5,304.7 873.6,307.0C873.6,309.3 873.6,311.7 873.5,314.0C873.3,316.4 873.1,318.7 872.9,321.1C872.6,323.4 872.2,325.8 871.8,328.1C871.3,330.4 870.8,332.8 870.2,335.1C869.6,337.4 868.9,339.7 868.1,342.0C867.3,344.3 866.4,346.6 865.4,348.8C864.3,351.0 863.2,353.2 862.0,355.3C860.8,357.4 859.4,359.5 858.0,361.5C856.5,363.5 855.0,365.5 853.3,367.3C851.6,369.1 849.9,370.9 848.0,372.5C846.1,374.2 844.2,375.7 842.1,377.1C840.1,378.6 837.9,379.9 835.8,381.1C833.6,382.3 831.3,383.3 829.0,384.3C826.7,385.2 824.4,386.0 822.0,386.8C819.7,387.5 817.3,388.1 814.9,388.6C812.4,389.1 810.0,389.4 807.6,389.8C805.2,390.1 802.7,390.3 800.3,390.4C797.9,390.5 795.4,390.6 793.0,390.6C790.6,390.6 788.1,390.5 785.7,390.3C783.3,390.1 780.9,389.9 778.4,389.6C776.0,389.2 773.6,388.8 771.2,388.3C768.8,387.8 766.4,387.3 764.0,386.6C761.7,385.9 759.3,385.1 757.0,384.1C754.7,383.2 752.5,382.2 750.3,381.0C748.1,379.9 745.9,378.6 743.9,377.2C741.8,375.8 739.8,374.2 738.0,372.6C736.1,370.9 734.3,369.2 732.7,367.3C731.1,365.4 729.5,363.5 728.1,361.4C726.7,359.4 725.4,357.3 724.3,355.1C723.1,353.0 722.1,350.7 721.2,348.5C720.2,346.2 719.4,343.9 718.7,341.6C718.0,339.3 717.4,337.0 716.9,334.7C716.3,332.4 715.9,330.1 715.5,327.8C715.1,325.4 714.8,323.1 714.6,320.8C714.3,318.5 714.2,316.2 714.0,313.9C713.9,311.6 713.8,309.3 713.8,307.0Z" stroke-width="1.05" stroke="#cdd49c"/>
<path d="M709.6,307.0C709.6,304.6 709.7,302.1 709.8,299.7C710.0,297.3 710.3,294.9 710.7,292.5C711.1,290.1 711.6,287.7 712.3,285.4C712.9,283.0 713.6,280.7 714.5,278.4C715.4,276.2 716.4,274.0 717.6,271.8C718.7,269.7 720.0,267.6 721.3,265.6C722.7,263.6 724.2,261.7 725.8,259.9C727.4,258.1 729.0,256.4 730.8,254.8C732.5,253.2 734.4,251.7 736.2,250.2C738.1,248.8 740.0,247.5 742.0,246.2C744.0,245.0 746.0,243.8 748.0,242.7C750.0,241.6 752.0,240.6 754.1,239.6C756.1,238.6 758.2,237.7 760.3,236.9C762.4,236.0 764.5,235.2 766.6,234.5C768.7,233.8 770.9,233.1 773.0,232.5C775.2,231.9 777.4,231.4 779.6,230.9C781.8,230.4 784.0,230.0 786.2,229.7C788.5,229.4 790.7,229.1 793.0,228.9C795.3,228.8 797.6,228.7 799.8,228.7C802.1,228.7 804.4,228.8 806.7,229.0C809.0,229.2 811.4,229.5 813.7,229.9C815.9,230.3 818.2,230.8 820.5,231.4C822.8,232.0 825.0,232.7 827.3,233.5C829.5,234.3 831.7,235.2 833.9,236.2C836.0,237.2 838.2,238.3 840.3,239.5C842.3,240.7 844.4,242.0 846.3,243.4C848.3,244.8 850.2,246.4 852.0,248.0C853.9,249.6 855.6,251.3 857.3,253.1C858.9,254.9 860.5,256.8 861.9,258.7C863.4,260.7 864.8,262.7 866.0,264.9C867.2,267.0 868.4,269.2 869.4,271.4C870.4,273.6 871.3,275.9 872.1,278.2C872.9,280.5 873.5,282.9 874.1,285.3C874.7,287.6 875.2,290.0 875.5,292.4C875.9,294.9 876.2,297.3 876.4,299.7C876.6,302.1 876.7,304.6 876.8,307.0C876.8,309.4 876.8,311.9 876.6,314.3C876.5,316.8 876.3,319.2 876.1,321.7C875.8,324.1 875.5,326.5 875.1,329.0C874.7,331.4 874.2,333.9 873.6,336.3C873.0,338.8 872.3,341.2 871.5,343.6C870.7,346.0 869.8,348.4 868.8,350.8C867.8,353.1 866.6,355.4 865.4,357.7C864.1,359.9 862.7,362.1 861.2,364.3C859.7,366.4 858.1,368.4 856.4,370.4C854.6,372.3 852.8,374.2 850.8,375.9C848.9,377.6 846.8,379.3 844.6,380.7C842.5,382.2 840.2,383.6 837.9,384.8C835.6,386.1 833.3,387.2 830.9,388.2C828.4,389.2 826.0,390.0 823.5,390.8C821.0,391.5 818.5,392.1 815.9,392.6C813.4,393.1 810.9,393.5 808.3,393.8C805.8,394.1 803.2,394.3 800.7,394.5C798.1,394.6 795.5,394.6 793.0,394.6C790.5,394.6 787.9,394.4 785.4,394.2C782.8,394.0 780.3,393.8 777.8,393.4C775.2,393.0 772.7,392.6 770.2,392.0C767.7,391.5 765.2,390.9 762.8,390.1C760.3,389.3 757.9,388.5 755.5,387.5C753.1,386.5 750.7,385.4 748.5,384.1C746.2,382.9 744.0,381.5 741.9,380.0C739.7,378.6 737.7,376.9 735.7,375.2C733.8,373.5 732.0,371.7 730.3,369.7C728.5,367.8 726.9,365.8 725.5,363.7C724.0,361.6 722.6,359.4 721.4,357.2C720.1,354.9 719.0,352.6 718.0,350.3C717.0,348.0 716.1,345.6 715.3,343.2C714.5,340.9 713.8,338.5 713.2,336.0C712.6,333.6 712.1,331.2 711.6,328.8C711.2,326.4 710.8,324.0 710.5,321.5C710.2,319.1 710.0,316.7 709.8,314.3C709.6,311.9 709.6,309.4 709.6,307.0Z" stroke-width="1.05" stroke="#cdd49c"/>
<path d="M705.2,307.0C705.3,304.4 705.4,301.9 705.6,299.4C705.8,296.8 706.1,294.3 706.6,291.8C707.1,289.3 707.6,286.8 708.4,284.3C709.1,281.9 709.9,279.5 710.9,277.1C711.9,274.8 713.0,272.5 714.3,270.3C715.5,268.1 716.9,265.9 718.3,263.9C719.8,261.9 721.4,259.9 723.1,258.0C724.8,256.2 726.5,254.4 728.4,252.8C730.2,251.1 732.1,249.5 734.1,248.1C736.0,246.6 738.0,245.2 740.0,243.9C742.1,242.6 744.1,241.3 746.2,240.2C748.3,239.0 750.4,237.9 752.5,236.9C754.7,235.9 756.8,234.9 759.0,234.0C761.1,233.1 763.3,232.2 765.5,231.4C767.7,230.7 769.9,229.9 772.2,229.3C774.4,228.6 776.7,228.0 779.0,227.5C781.3,227.0 783.6,226.5 785.9,226.2C788.3,225.8 790.6,225.5 793.0,225.3C795.4,225.1 797.8,225.0 800.2,225.0C802.6,225.0 805.0,225.1 807.4,225.3C809.8,225.5 812.2,225.8 814.6,226.2C817.0,226.6 819.5,227.2 821.8,227.8C824.2,228.4 826.6,229.1 828.9,229.9C831.3,230.8 833.6,231.7 835.9,232.7C838.1,233.8 840.4,234.9 842.6,236.2C844.8,237.5 846.9,238.8 848.9,240.3C851.0,241.8 853.0,243.4 854.9,245.1C856.8,246.8 858.6,248.6 860.3,250.5C862.0,252.4 863.7,254.4 865.1,256.5C866.6,258.6 868.0,260.7 869.3,263.0C870.5,265.2 871.7,267.5 872.7,269.8C873.7,272.2 874.6,274.6 875.4,277.0C876.1,279.5 876.8,281.9 877.3,284.4C877.9,286.9 878.3,289.4 878.7,291.9C879.1,294.4 879.3,296.9 879.5,299.4C879.7,301.9 879.8,304.5 879.9,307.0C879.9,309.5 879.9,312.1 879.8,314.6C879.7,317.1 879.6,319.7 879.3,322.2C879.1,324.8 878.8,327.3 878.4,329.9C878.1,332.5 877.6,335.0 877.0,337.6C876.5,340.1 875.8,342.7 875.1,345.3C874.3,347.8 873.4,350.3 872.4,352.8C871.4,355.3 870.2,357.8 868.9,360.2C867.7,362.6 866.2,364.9 864.7,367.1C863.1,369.4 861.4,371.6 859.6,373.6C857.8,375.6 855.8,377.6 853.8,379.4C851.7,381.2 849.5,382.9 847.2,384.5C845.0,386.0 842.6,387.4 840.2,388.7C837.7,390.0 835.2,391.1 832.7,392.1C830.1,393.1 827.5,393.9 824.9,394.7C822.3,395.4 819.6,396.0 817.0,396.5C814.3,397.0 811.7,397.4 809.0,397.7C806.3,398.0 803.7,398.2 801.0,398.3C798.3,398.4 795.7,398.4 793.0,398.3C790.3,398.3 787.7,398.2 785.0,397.9C782.4,397.7 779.8,397.4 777.1,397.0C774.5,396.6 771.9,396.2 769.3,395.6C766.7,395.0 764.1,394.3 761.5,393.5C759.0,392.7 756.4,391.8 753.9,390.7C751.5,389.7 749.0,388.5 746.7,387.2C744.3,385.9 742.0,384.5 739.8,383.0C737.6,381.4 735.5,379.8 733.4,378.0C731.4,376.2 729.5,374.3 727.7,372.3C725.9,370.3 724.2,368.2 722.7,366.0C721.1,363.9 719.6,361.6 718.3,359.3C717.0,357.0 715.8,354.6 714.7,352.2C713.6,349.8 712.6,347.4 711.7,344.9C710.8,342.4 710.1,339.9 709.4,337.4C708.7,334.9 708.1,332.4 707.6,329.9C707.1,327.4 706.6,324.8 706.3,322.3C705.9,319.8 705.7,317.2 705.5,314.7C705.3,312.1 705.2,309.6 705.2,307.0Z" stroke-width="1.05" stroke="#cdd49c"/>
<path d="M701.0,307.0C701.0,304.3 701.1,301.6 701.4,299.0C701.7,296.3 702.1,293.7 702.6,291.1C703.1,288.4 703.8,285.8 704.6,283.3C705.4,280.8 706.4,278.3 707.4,275.9C708.5,273.4 709.8,271.1 711.1,268.8C712.4,266.5 713.9,264.3 715.5,262.3C717.1,260.2 718.8,258.2 720.5,256.3C722.3,254.4 724.2,252.5 726.1,250.8C728.0,249.1 730.0,247.5 732.0,246.0C734.0,244.4 736.1,243.0 738.1,241.6C740.2,240.2 742.3,239.0 744.5,237.7C746.6,236.5 748.8,235.3 751.0,234.2C753.2,233.1 755.4,232.0 757.6,231.1C759.8,230.1 762.1,229.1 764.3,228.3C766.6,227.4 768.9,226.6 771.3,225.8C773.6,225.1 776.0,224.4 778.3,223.9C780.7,223.3 783.2,222.8 785.6,222.4C788.0,222.0 790.5,221.7 793.0,221.5C795.5,221.3 798.0,221.2 800.5,221.2C803.0,221.2 805.6,221.3 808.1,221.5C810.6,221.7 813.1,222.0 815.7,222.5C818.2,222.9 820.7,223.4 823.2,224.1C825.7,224.7 828.1,225.5 830.6,226.4C833.0,227.3 835.5,228.3 837.8,229.4C840.2,230.5 842.5,231.7 844.8,233.0C847.1,234.4 849.3,235.8 851.4,237.4C853.6,238.9 855.6,240.6 857.6,242.4C859.6,244.2 861.5,246.1 863.2,248.1C865.0,250.1 866.7,252.2 868.2,254.4C869.7,256.5 871.1,258.8 872.4,261.2C873.7,263.5 874.8,265.9 875.8,268.4C876.9,270.8 877.8,273.3 878.5,275.9C879.3,278.4 879.9,281.0 880.5,283.6C881.1,286.1 881.5,288.7 881.9,291.3C882.2,293.9 882.5,296.5 882.7,299.2C882.9,301.8 883.0,304.4 883.1,307.0C883.1,309.6 883.1,312.2 883.1,314.9C883.0,317.5 882.9,320.2 882.7,322.8C882.5,325.5 882.3,328.1 881.9,330.8C881.6,333.5 881.2,336.2 880.7,338.9C880.1,341.6 879.5,344.3 878.8,347.0C878.0,349.7 877.2,352.4 876.1,355.0C875.1,357.6 874.0,360.2 872.6,362.8C871.3,365.3 869.9,367.8 868.3,370.1C866.6,372.5 864.9,374.8 862.9,376.9C861.0,379.1 858.9,381.1 856.8,383.0C854.6,384.9 852.3,386.6 849.9,388.2C847.5,389.8 844.9,391.2 842.4,392.5C839.8,393.8 837.1,394.9 834.5,395.9C831.8,396.9 829.0,397.7 826.3,398.5C823.5,399.2 820.8,399.7 818.0,400.2C815.2,400.7 812.4,401.0 809.6,401.3C806.8,401.6 804.1,401.7 801.3,401.8C798.5,401.9 795.8,401.9 793.0,401.8C790.2,401.8 787.5,401.6 784.7,401.4C782.0,401.2 779.2,400.9 776.5,400.5C773.8,400.1 771.1,399.6 768.4,399.0C765.6,398.4 762.9,397.7 760.3,396.9C757.6,396.1 755.0,395.1 752.4,394.1C749.8,393.0 747.3,391.8 744.8,390.4C742.4,389.1 740.0,387.6 737.6,386.1C735.3,384.5 733.1,382.7 731.0,380.9C728.9,379.0 726.9,377.1 725.0,375.0C723.1,373.0 721.3,370.8 719.7,368.5C718.0,366.3 716.5,363.9 715.1,361.6C713.7,359.2 712.4,356.7 711.2,354.2C710.0,351.7 709.0,349.2 708.0,346.6C707.1,344.1 706.2,341.5 705.5,338.9C704.7,336.3 704.0,333.6 703.5,331.0C702.9,328.3 702.4,325.7 702.1,323.0C701.7,320.4 701.4,317.7 701.2,315.0C701.0,312.4 700.9,309.7 701.0,307.0Z" stroke-width="1.05" stroke="#cdd49c"/>
<path d="M696.9,307.0C696.9,304.2 697.1,301.4 697.4,298.6C697.7,295.9 698.2,293.1 698.8,290.4C699.4,287.7 700.1,285.0 701.0,282.4C701.9,279.7 703.0,277.1 704.1,274.7C705.3,272.2 706.6,269.7 708.1,267.4C709.5,265.1 711.1,262.8 712.8,260.7C714.4,258.5 716.2,256.5 718.1,254.5C719.9,252.6 721.8,250.7 723.8,248.9C725.8,247.2 727.8,245.5 729.9,243.9C732.0,242.3 734.1,240.8 736.2,239.3C738.4,237.9 740.5,236.5 742.7,235.2C744.9,233.9 747.1,232.6 749.4,231.4C751.6,230.2 753.9,229.1 756.2,228.0C758.4,226.9 760.8,225.9 763.1,224.9C765.5,223.9 767.9,223.0 770.3,222.2C772.7,221.4 775.2,220.7 777.7,220.0C780.2,219.4 782.7,218.8 785.2,218.4C787.8,218.0 790.4,217.6 793.0,217.4C795.6,217.2 798.2,217.1 800.9,217.1C803.5,217.1 806.1,217.3 808.8,217.5C811.4,217.8 814.1,218.1 816.7,218.6C819.3,219.1 821.9,219.7 824.5,220.5C827.1,221.2 829.7,222.0 832.2,223.0C834.7,223.9 837.2,225.0 839.7,226.2C842.1,227.3 844.5,228.6 846.9,230.0C849.2,231.4 851.5,233.0 853.7,234.6C856.0,236.2 858.1,238.0 860.1,239.9C862.2,241.7 864.1,243.7 865.9,245.8C867.8,247.9 869.5,250.1 871.0,252.3C872.6,254.6 874.1,257.0 875.4,259.4C876.7,261.9 877.9,264.4 878.9,266.9C880.0,269.5 880.9,272.1 881.7,274.7C882.5,277.3 883.1,280.0 883.7,282.7C884.3,285.4 884.7,288.1 885.1,290.8C885.5,293.5 885.7,296.2 886.0,298.9C886.2,301.6 886.3,304.3 886.4,307.0C886.5,309.7 886.5,312.4 886.5,315.2C886.5,317.9 886.4,320.7 886.3,323.4C886.1,326.2 885.9,329.0 885.6,331.8C885.3,334.6 884.9,337.5 884.5,340.3C884.0,343.1 883.4,346.0 882.6,348.8C881.9,351.6 881.0,354.5 880.0,357.2C879.0,360.0 877.8,362.8 876.4,365.4C875.1,368.1 873.6,370.7 871.9,373.2C870.2,375.7 868.3,378.1 866.3,380.3C864.3,382.5 862.1,384.6 859.8,386.6C857.5,388.5 855.0,390.3 852.5,391.9C849.9,393.5 847.2,395.0 844.5,396.3C841.8,397.5 839.0,398.6 836.2,399.6C833.4,400.6 830.5,401.4 827.6,402.0C824.7,402.7 821.8,403.3 818.9,403.7C816.0,404.1 813.1,404.4 810.2,404.7C807.3,404.9 804.5,405.1 801.6,405.1C798.7,405.2 795.9,405.2 793.0,405.1C790.1,405.1 787.3,404.9 784.5,404.7C781.6,404.5 778.8,404.2 775.9,403.8C773.1,403.4 770.3,403.0 767.4,402.4C764.6,401.8 761.8,401.1 759.0,400.3C756.3,399.5 753.5,398.5 750.8,397.5C748.1,396.4 745.4,395.2 742.9,393.8C740.3,392.5 737.8,391.0 735.4,389.3C732.9,387.7 730.6,385.9 728.4,384.0C726.2,382.1 724.1,380.1 722.1,377.9C720.1,375.8 718.2,373.5 716.5,371.2C714.7,368.9 713.1,366.4 711.7,364.0C710.2,361.5 708.8,358.9 707.6,356.3C706.3,353.7 705.2,351.1 704.2,348.4C703.2,345.7 702.3,343.0 701.5,340.3C700.7,337.6 700.0,334.8 699.4,332.1C698.8,329.3 698.3,326.5 697.9,323.8C697.6,321.0 697.3,318.2 697.1,315.4C696.9,312.6 696.8,309.8 696.9,307.0Z" stroke-width="1.05" stroke="#cdd49c"/>
<path d="M693.0,307.0C693.1,304.1 693.3,301.2 693.7,298.3C694.0,295.4 694.5,292.6 695.2,289.8C695.8,286.9 696.6,284.1 697.6,281.4C698.6,278.7 699.7,276.1 700.9,273.5C702.2,270.9 703.6,268.4 705.1,266.0C706.6,263.6 708.3,261.3 710.0,259.1C711.8,256.9 713.7,254.8 715.6,252.8C717.5,250.8 719.5,248.9 721.5,247.0C723.6,245.2 725.7,243.5 727.8,241.8C729.9,240.1 732.1,238.5 734.3,237.0C736.4,235.5 738.7,234.0 740.9,232.6C743.1,231.2 745.4,229.8 747.7,228.5C750.0,227.2 752.3,225.9 754.7,224.8C757.0,223.6 759.4,222.4 761.8,221.4C764.3,220.3 766.7,219.3 769.3,218.4C771.8,217.5 774.4,216.7 777.0,216.0C779.6,215.3 782.2,214.7 784.9,214.3C787.6,213.8 790.3,213.5 793.0,213.2C795.7,213.0 798.5,212.9 801.2,213.0C804.0,213.0 806.7,213.2 809.5,213.5C812.2,213.9 815.0,214.3 817.7,214.9C820.4,215.4 823.1,216.1 825.8,216.9C828.5,217.7 831.1,218.7 833.7,219.7C836.3,220.7 838.9,221.9 841.4,223.1C843.9,224.4 846.4,225.8 848.8,227.3C851.2,228.7 853.6,230.3 855.9,232.1C858.2,233.8 860.4,235.6 862.5,237.5C864.6,239.5 866.6,241.5 868.5,243.7C870.4,245.8 872.1,248.1 873.8,250.4C875.4,252.8 876.9,255.2 878.3,257.7C879.7,260.3 880.9,262.9 882.0,265.5C883.1,268.1 884.1,270.8 884.9,273.5C885.7,276.3 886.4,279.0 887.0,281.8C887.7,284.6 888.1,287.4 888.5,290.2C888.9,292.9 889.2,295.8 889.5,298.6C889.7,301.4 889.9,304.2 890.0,307.0C890.1,309.8 890.2,312.7 890.2,315.5C890.2,318.4 890.2,321.2 890.0,324.1C889.9,327.0 889.7,329.9 889.5,332.8C889.2,335.8 888.8,338.7 888.4,341.7C887.9,344.7 887.3,347.7 886.6,350.6C885.8,353.6 885.0,356.6 883.9,359.5C882.9,362.4 881.6,365.3 880.2,368.1C878.8,370.9 877.2,373.6 875.5,376.2C873.7,378.8 871.7,381.3 869.6,383.6C867.5,385.9 865.1,388.1 862.7,390.1C860.3,392.1 857.7,393.9 855.0,395.5C852.3,397.1 849.5,398.6 846.6,399.8C843.7,401.1 840.8,402.2 837.8,403.1C834.9,404.1 831.8,404.8 828.8,405.5C825.8,406.1 822.8,406.6 819.8,407.0C816.8,407.4 813.8,407.7 810.8,407.9C807.8,408.1 804.8,408.2 801.9,408.3C798.9,408.4 795.9,408.4 793.0,408.3C790.1,408.2 787.1,408.1 784.2,407.9C781.2,407.7 778.3,407.5 775.3,407.1C772.4,406.8 769.5,406.4 766.5,405.8C763.6,405.3 760.7,404.6 757.8,403.8C754.9,403.0 752.0,402.1 749.1,401.1C746.3,400.0 743.5,398.8 740.8,397.4C738.1,396.0 735.4,394.5 732.9,392.8C730.4,391.2 727.9,389.3 725.6,387.4C723.2,385.4 721.0,383.3 719.0,381.0C716.9,378.8 714.9,376.5 713.1,374.0C711.3,371.6 709.6,369.0 708.1,366.4C706.6,363.9 705.2,361.2 703.9,358.5C702.6,355.7 701.5,353.0 700.4,350.2C699.4,347.4 698.5,344.5 697.6,341.7C696.8,338.9 696.1,336.0 695.5,333.1C694.9,330.2 694.4,327.3 694.0,324.5C693.6,321.6 693.3,318.6 693.2,315.7C693.0,312.8 692.9,309.9 693.0,307.0Z" stroke-width="1.05" stroke="#cdd49c"/>
<path d="M687.3,307.0C687.4,303.9 687.5,300.8 687.7,297.8C688.0,294.7 688.4,291.7 688.9,288.6C689.5,285.6 690.1,282.6 691.0,279.7C691.8,276.7 692.9,273.8 694.0,271.0C695.2,268.2 696.6,265.4 698.1,262.7C699.5,260.1 701.2,257.5 703.0,255.0C704.8,252.6 706.7,250.2 708.7,248.0C710.8,245.8 712.9,243.7 715.1,241.7C717.3,239.6 719.6,237.8 722.0,236.0C724.3,234.2 726.7,232.5 729.1,230.8C731.5,229.2 734.0,227.7 736.4,226.2C738.9,224.7 741.4,223.4 743.9,222.0C746.5,220.7 749.0,219.4 751.6,218.2C754.2,216.9 756.8,215.8 759.4,214.7C762.0,213.6 764.7,212.6 767.5,211.6C770.2,210.7 772.9,209.9 775.7,209.2C778.6,208.4 781.4,207.8 784.3,207.3C787.2,206.9 790.1,206.5 793.0,206.3C795.9,206.1 798.9,206.0 801.8,206.1C804.8,206.2 807.7,206.4 810.7,206.8C813.6,207.2 816.5,207.7 819.4,208.4C822.3,209.0 825.2,209.8 828.0,210.8C830.9,211.7 833.7,212.7 836.4,213.9C839.2,215.1 841.9,216.4 844.5,217.8C847.2,219.2 849.8,220.7 852.3,222.3C854.9,223.9 857.4,225.6 859.8,227.4C862.2,229.2 864.6,231.1 866.8,233.2C869.1,235.2 871.3,237.3 873.4,239.5C875.5,241.8 877.5,244.1 879.4,246.5C881.3,248.9 883.0,251.5 884.7,254.1C886.3,256.7 887.8,259.4 889.1,262.2C890.5,264.9 891.7,267.8 892.8,270.7C893.8,273.6 894.8,276.5 895.5,279.5C896.3,282.5 897.0,285.5 897.5,288.6C898.0,291.6 898.4,294.7 898.7,297.8C898.9,300.8 899.1,303.9 899.2,307.0C899.2,310.1 899.2,313.2 899.1,316.3C899.0,319.4 898.8,322.5 898.5,325.6C898.2,328.7 897.8,331.8 897.3,334.9C896.8,338.1 896.3,341.2 895.6,344.3C894.9,347.5 894.1,350.6 893.1,353.7C892.2,356.8 891.1,359.9 889.9,362.9C888.7,366.0 887.3,369.0 885.7,371.9C884.2,374.8 882.4,377.7 880.5,380.4C878.6,383.2 876.5,385.8 874.3,388.3C872.1,390.8 869.6,393.1 867.1,395.3C864.5,397.5 861.8,399.5 859.0,401.3C856.2,403.1 853.2,404.7 850.2,406.1C847.2,407.6 844.1,408.8 841.0,409.9C837.8,411.0 834.6,411.8 831.4,412.6C828.2,413.3 825.0,413.9 821.8,414.4C818.6,414.9 815.3,415.2 812.1,415.5C808.9,415.7 805.7,415.9 802.5,416.0C799.3,416.1 796.2,416.1 793.0,416.0C789.8,416.0 786.7,415.9 783.5,415.7C780.3,415.5 777.1,415.3 774.0,415.0C770.8,414.6 767.6,414.2 764.4,413.7C761.2,413.2 758.0,412.6 754.9,411.8C751.7,411.0 748.5,410.1 745.4,409.0C742.3,407.9 739.2,406.7 736.3,405.3C733.3,403.8 730.4,402.2 727.6,400.4C724.8,398.6 722.1,396.6 719.6,394.5C717.1,392.4 714.7,390.0 712.4,387.6C710.2,385.1 708.2,382.5 706.3,379.7C704.4,377.0 702.7,374.2 701.2,371.3C699.7,368.4 698.3,365.4 697.1,362.4C695.9,359.4 694.8,356.3 693.9,353.2C692.9,350.2 692.1,347.1 691.4,344.0C690.7,340.9 690.1,337.8 689.6,334.7C689.1,331.6 688.7,328.5 688.3,325.5C688.0,322.4 687.7,319.3 687.6,316.2C687.4,313.1 687.3,310.1 687.3,307.0Z" stroke-width="2.4" stroke="#b9c17b"/>
  </g>
  <g fill="#3a3a3a" stroke="#3a3a3a" stroke-width="0.45" font-family="Liberation Sans" font-weight="400" font-size="15" text-anchor="middle" letter-spacing="1.3">
    <text x="792.6" y="282.4">Carbon Capture</text>
    <text x="792.7" y="300.6">Breakeven Point</text>
    <text x="792.5" y="319.3">(from propagation)</text>
  </g>
  <text x="791.2" y="369.2" font-family="Liberation Sans" font-size="38.5" text-anchor="middle" letter-spacing="0.9" fill="#333">1 year</text>
</svg>

<!-- description -->
<div class="t" style="left:112px;top:673.5px;font-size:16.5px;letter-spacing:0.39px;color:#404040;">This diagram shows the rate at which the tree will store carbon as a dry weight over its anticipated</div>
<div class="t" style="left:112px;top:695.3px;font-size:16.5px;letter-spacing:0.545px;color:#404040;">lifespan and the age at which the tree will offset the carbon it took to grow, deliver and plant it.</div>

<!-- ranking -->
<div class="t" style="left:560.5px;top:751.8px;font-size:22px;letter-spacing:-0.15px;color:#000;">Barcham</div>
<div class="t" style="left:560.5px;top:780.1px;font-size:22px;letter-spacing:-0.15px;color:#000;">Species Ranking</div>
<div class="t" style="left:792.4px;top:780.5px;font-size:27.5px;letter-spacing:0.45px;color:#000;">47*/553</div>
<div class="t" style="left:257px;top:831.8px;font-size:16px;color:#444;">Asterisk denotes that more than 1 species or variety shares this position</div>

<!-- further info paragraph -->
<div class="t" style="left:112.6px;top:941.3px;width:785.5px;font-size:16.5px;letter-spacing:0.24px;text-align:justify;text-align-last:justify;color:#404040;">Over the past 10 years, measurements from thousands of urban trees have been collected in towns and</div>
<div class="t" style="left:112.6px;top:968.8px;width:785.5px;font-size:16.5px;letter-spacing:0.24px;text-align:justify;text-align-last:justify;color:#404040;">cities across the UK by Treeconomics and its project partners. This detailed information on tree structure</div>
<div class="t" style="left:112.6px;top:996.3px;width:785.5px;font-size:16.5px;letter-spacing:0.24px;text-align:justify;text-align-last:justify;color:#404040;">(height, trunk diameter, species, crown dimensions etc) has been run through a sophisticated computer</div>
<div class="t" style="left:112.6px;top:1023px;width:785.5px;font-size:16.5px;letter-spacing:0.24px;text-align:justify;text-align-last:justify;color:#404040;">model called i-Tree Eco. i-Tree Eco is a peer reviewed, open source and freely available software suite,</div>
<div class="t" style="left:112.6px;top:1051px;font-size:16.5px;letter-spacing:0.225px;color:#404040;">used internationally to assess urban trees and calculate their benefits to society.</div>
<div class="t" style="left:112.6px;top:1105.7px;font-size:16.5px;letter-spacing:0.36px;color:#404040;">For further information and detailed methodology go to: www.treeconomics.co.uk/treecarboncertificate/</div>
</body></html>
